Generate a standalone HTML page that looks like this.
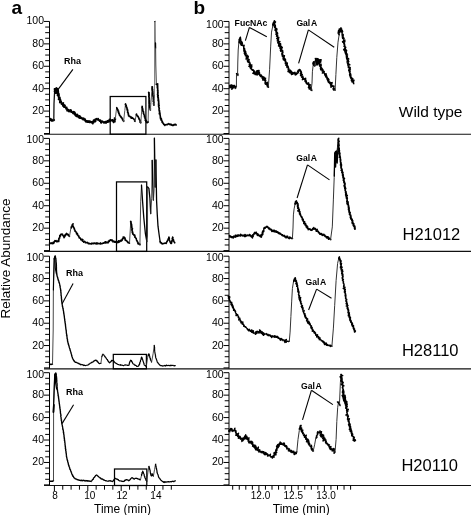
<!DOCTYPE html>
<html><head><meta charset="utf-8"><style>
html,body{margin:0;padding:0;background:#fff;}
svg{display:block;font-family:"Liberation Sans",sans-serif;will-change:transform;}
</style></head><body>
<svg width="471" height="515" viewBox="0 0 471 515">
<rect width="471" height="515" fill="#fff"/>
<line x1="49.5" y1="21.45" x2="49.5" y2="134.2" stroke="#000" stroke-width="1"/>
<line x1="45.2" y1="127.9" x2="49.5" y2="127.9" stroke="#000" stroke-width="1"/>
<line x1="45.2" y1="122.3" x2="49.5" y2="122.3" stroke="#000" stroke-width="1"/>
<line x1="45.2" y1="116.69" x2="49.5" y2="116.69" stroke="#000" stroke-width="1"/>
<line x1="44" y1="111.09" x2="49.5" y2="111.09" stroke="#000" stroke-width="1"/>
<text x="44" y="114.09" font-size="10.5" font-weight="normal" text-anchor="end" >20</text>
<line x1="45.2" y1="105.49" x2="49.5" y2="105.49" stroke="#000" stroke-width="1"/>
<line x1="45.2" y1="99.88" x2="49.5" y2="99.88" stroke="#000" stroke-width="1"/>
<line x1="45.2" y1="94.28" x2="49.5" y2="94.28" stroke="#000" stroke-width="1"/>
<line x1="44" y1="88.68" x2="49.5" y2="88.68" stroke="#000" stroke-width="1"/>
<text x="44" y="91.68" font-size="10.5" font-weight="normal" text-anchor="end" >40</text>
<line x1="45.2" y1="83.08" x2="49.5" y2="83.08" stroke="#000" stroke-width="1"/>
<line x1="45.2" y1="77.47" x2="49.5" y2="77.47" stroke="#000" stroke-width="1"/>
<line x1="45.2" y1="71.87" x2="49.5" y2="71.87" stroke="#000" stroke-width="1"/>
<line x1="44" y1="66.27" x2="49.5" y2="66.27" stroke="#000" stroke-width="1"/>
<text x="44" y="69.27" font-size="10.5" font-weight="normal" text-anchor="end" >60</text>
<line x1="45.2" y1="60.67" x2="49.5" y2="60.67" stroke="#000" stroke-width="1"/>
<line x1="45.2" y1="55.06" x2="49.5" y2="55.06" stroke="#000" stroke-width="1"/>
<line x1="45.2" y1="49.46" x2="49.5" y2="49.46" stroke="#000" stroke-width="1"/>
<line x1="44" y1="43.86" x2="49.5" y2="43.86" stroke="#000" stroke-width="1"/>
<text x="44" y="46.86" font-size="10.5" font-weight="normal" text-anchor="end" >80</text>
<line x1="45.2" y1="38.26" x2="49.5" y2="38.26" stroke="#000" stroke-width="1"/>
<line x1="45.2" y1="32.66" x2="49.5" y2="32.66" stroke="#000" stroke-width="1"/>
<line x1="45.2" y1="27.05" x2="49.5" y2="27.05" stroke="#000" stroke-width="1"/>
<line x1="44" y1="21.45" x2="49.5" y2="21.45" stroke="#000" stroke-width="1"/>
<text x="44" y="24.45" font-size="10.5" font-weight="normal" text-anchor="end" >100</text>
<line x1="44" y1="133.5" x2="49.5" y2="133.5" stroke="#000" stroke-width="1"/>
<line x1="229" y1="21.45" x2="229" y2="134.2" stroke="#000" stroke-width="1"/>
<line x1="224.7" y1="127.9" x2="229" y2="127.9" stroke="#000" stroke-width="1"/>
<line x1="224.7" y1="122.3" x2="229" y2="122.3" stroke="#000" stroke-width="1"/>
<line x1="224.7" y1="116.69" x2="229" y2="116.69" stroke="#000" stroke-width="1"/>
<line x1="223.5" y1="111.09" x2="229" y2="111.09" stroke="#000" stroke-width="1"/>
<text x="223.6" y="114.09" font-size="10.5" font-weight="normal" text-anchor="end" >20</text>
<line x1="224.7" y1="105.49" x2="229" y2="105.49" stroke="#000" stroke-width="1"/>
<line x1="224.7" y1="99.88" x2="229" y2="99.88" stroke="#000" stroke-width="1"/>
<line x1="224.7" y1="94.28" x2="229" y2="94.28" stroke="#000" stroke-width="1"/>
<line x1="223.5" y1="88.68" x2="229" y2="88.68" stroke="#000" stroke-width="1"/>
<text x="223.6" y="91.68" font-size="10.5" font-weight="normal" text-anchor="end" >40</text>
<line x1="224.7" y1="83.08" x2="229" y2="83.08" stroke="#000" stroke-width="1"/>
<line x1="224.7" y1="77.47" x2="229" y2="77.47" stroke="#000" stroke-width="1"/>
<line x1="224.7" y1="71.87" x2="229" y2="71.87" stroke="#000" stroke-width="1"/>
<line x1="223.5" y1="66.27" x2="229" y2="66.27" stroke="#000" stroke-width="1"/>
<text x="223.6" y="69.27" font-size="10.5" font-weight="normal" text-anchor="end" >60</text>
<line x1="224.7" y1="60.67" x2="229" y2="60.67" stroke="#000" stroke-width="1"/>
<line x1="224.7" y1="55.06" x2="229" y2="55.06" stroke="#000" stroke-width="1"/>
<line x1="224.7" y1="49.46" x2="229" y2="49.46" stroke="#000" stroke-width="1"/>
<line x1="223.5" y1="43.86" x2="229" y2="43.86" stroke="#000" stroke-width="1"/>
<text x="223.6" y="46.86" font-size="10.5" font-weight="normal" text-anchor="end" >80</text>
<line x1="224.7" y1="38.26" x2="229" y2="38.26" stroke="#000" stroke-width="1"/>
<line x1="224.7" y1="32.66" x2="229" y2="32.66" stroke="#000" stroke-width="1"/>
<line x1="224.7" y1="27.05" x2="229" y2="27.05" stroke="#000" stroke-width="1"/>
<line x1="223.5" y1="21.45" x2="229" y2="21.45" stroke="#000" stroke-width="1"/>
<text x="223.6" y="28.25" font-size="10.5" font-weight="normal" text-anchor="end" >100</text>
<line x1="223.5" y1="133.5" x2="229" y2="133.5" stroke="#000" stroke-width="1"/>
<line x1="44" y1="134.2" x2="471" y2="134.2" stroke="#111" stroke-width="1.15"/>
<line x1="49.5" y1="138.4" x2="49.5" y2="251.4" stroke="#000" stroke-width="1"/>
<line x1="45.2" y1="244.99" x2="49.5" y2="244.99" stroke="#000" stroke-width="1"/>
<line x1="45.2" y1="239.38" x2="49.5" y2="239.38" stroke="#000" stroke-width="1"/>
<line x1="45.2" y1="233.77" x2="49.5" y2="233.77" stroke="#000" stroke-width="1"/>
<line x1="44" y1="228.16" x2="49.5" y2="228.16" stroke="#000" stroke-width="1"/>
<text x="44" y="231.16" font-size="10.5" font-weight="normal" text-anchor="end" >20</text>
<line x1="45.2" y1="222.55" x2="49.5" y2="222.55" stroke="#000" stroke-width="1"/>
<line x1="45.2" y1="216.94" x2="49.5" y2="216.94" stroke="#000" stroke-width="1"/>
<line x1="45.2" y1="211.33" x2="49.5" y2="211.33" stroke="#000" stroke-width="1"/>
<line x1="44" y1="205.72" x2="49.5" y2="205.72" stroke="#000" stroke-width="1"/>
<text x="44" y="208.72" font-size="10.5" font-weight="normal" text-anchor="end" >40</text>
<line x1="45.2" y1="200.11" x2="49.5" y2="200.11" stroke="#000" stroke-width="1"/>
<line x1="45.2" y1="194.5" x2="49.5" y2="194.5" stroke="#000" stroke-width="1"/>
<line x1="45.2" y1="188.89" x2="49.5" y2="188.89" stroke="#000" stroke-width="1"/>
<line x1="44" y1="183.28" x2="49.5" y2="183.28" stroke="#000" stroke-width="1"/>
<text x="44" y="186.28" font-size="10.5" font-weight="normal" text-anchor="end" >60</text>
<line x1="45.2" y1="177.67" x2="49.5" y2="177.67" stroke="#000" stroke-width="1"/>
<line x1="45.2" y1="172.06" x2="49.5" y2="172.06" stroke="#000" stroke-width="1"/>
<line x1="45.2" y1="166.45" x2="49.5" y2="166.45" stroke="#000" stroke-width="1"/>
<line x1="44" y1="160.84" x2="49.5" y2="160.84" stroke="#000" stroke-width="1"/>
<text x="44" y="163.84" font-size="10.5" font-weight="normal" text-anchor="end" >80</text>
<line x1="45.2" y1="155.23" x2="49.5" y2="155.23" stroke="#000" stroke-width="1"/>
<line x1="45.2" y1="149.62" x2="49.5" y2="149.62" stroke="#000" stroke-width="1"/>
<line x1="45.2" y1="144.01" x2="49.5" y2="144.01" stroke="#000" stroke-width="1"/>
<line x1="44" y1="138.4" x2="49.5" y2="138.4" stroke="#000" stroke-width="1"/>
<text x="44" y="143.4" font-size="10.5" font-weight="normal" text-anchor="end" >100</text>
<line x1="44" y1="250.6" x2="49.5" y2="250.6" stroke="#000" stroke-width="1"/>
<line x1="229" y1="138.4" x2="229" y2="251.4" stroke="#000" stroke-width="1"/>
<line x1="224.7" y1="244.99" x2="229" y2="244.99" stroke="#000" stroke-width="1"/>
<line x1="224.7" y1="239.38" x2="229" y2="239.38" stroke="#000" stroke-width="1"/>
<line x1="224.7" y1="233.77" x2="229" y2="233.77" stroke="#000" stroke-width="1"/>
<line x1="223.5" y1="228.16" x2="229" y2="228.16" stroke="#000" stroke-width="1"/>
<text x="223.6" y="231.16" font-size="10.5" font-weight="normal" text-anchor="end" >20</text>
<line x1="224.7" y1="222.55" x2="229" y2="222.55" stroke="#000" stroke-width="1"/>
<line x1="224.7" y1="216.94" x2="229" y2="216.94" stroke="#000" stroke-width="1"/>
<line x1="224.7" y1="211.33" x2="229" y2="211.33" stroke="#000" stroke-width="1"/>
<line x1="223.5" y1="205.72" x2="229" y2="205.72" stroke="#000" stroke-width="1"/>
<text x="223.6" y="208.72" font-size="10.5" font-weight="normal" text-anchor="end" >40</text>
<line x1="224.7" y1="200.11" x2="229" y2="200.11" stroke="#000" stroke-width="1"/>
<line x1="224.7" y1="194.5" x2="229" y2="194.5" stroke="#000" stroke-width="1"/>
<line x1="224.7" y1="188.89" x2="229" y2="188.89" stroke="#000" stroke-width="1"/>
<line x1="223.5" y1="183.28" x2="229" y2="183.28" stroke="#000" stroke-width="1"/>
<text x="223.6" y="186.28" font-size="10.5" font-weight="normal" text-anchor="end" >60</text>
<line x1="224.7" y1="177.67" x2="229" y2="177.67" stroke="#000" stroke-width="1"/>
<line x1="224.7" y1="172.06" x2="229" y2="172.06" stroke="#000" stroke-width="1"/>
<line x1="224.7" y1="166.45" x2="229" y2="166.45" stroke="#000" stroke-width="1"/>
<line x1="223.5" y1="160.84" x2="229" y2="160.84" stroke="#000" stroke-width="1"/>
<text x="223.6" y="163.84" font-size="10.5" font-weight="normal" text-anchor="end" >80</text>
<line x1="224.7" y1="155.23" x2="229" y2="155.23" stroke="#000" stroke-width="1"/>
<line x1="224.7" y1="149.62" x2="229" y2="149.62" stroke="#000" stroke-width="1"/>
<line x1="224.7" y1="144.01" x2="229" y2="144.01" stroke="#000" stroke-width="1"/>
<line x1="223.5" y1="138.4" x2="229" y2="138.4" stroke="#000" stroke-width="1"/>
<text x="223.6" y="143.4" font-size="10.5" font-weight="normal" text-anchor="end" >100</text>
<line x1="223.5" y1="250.6" x2="229" y2="250.6" stroke="#000" stroke-width="1"/>
<line x1="44" y1="251.4" x2="471" y2="251.4" stroke="#111" stroke-width="1.15"/>
<line x1="49.5" y1="256.2" x2="49.5" y2="368.8" stroke="#000" stroke-width="1"/>
<line x1="45.2" y1="362.31" x2="49.5" y2="362.31" stroke="#000" stroke-width="1"/>
<line x1="45.2" y1="356.73" x2="49.5" y2="356.73" stroke="#000" stroke-width="1"/>
<line x1="45.2" y1="351.14" x2="49.5" y2="351.14" stroke="#000" stroke-width="1"/>
<line x1="44" y1="345.56" x2="49.5" y2="345.56" stroke="#000" stroke-width="1"/>
<text x="44" y="348.56" font-size="10.5" font-weight="normal" text-anchor="end" >20</text>
<line x1="45.2" y1="339.97" x2="49.5" y2="339.97" stroke="#000" stroke-width="1"/>
<line x1="45.2" y1="334.39" x2="49.5" y2="334.39" stroke="#000" stroke-width="1"/>
<line x1="45.2" y1="328.8" x2="49.5" y2="328.8" stroke="#000" stroke-width="1"/>
<line x1="44" y1="323.22" x2="49.5" y2="323.22" stroke="#000" stroke-width="1"/>
<text x="44" y="326.22" font-size="10.5" font-weight="normal" text-anchor="end" >40</text>
<line x1="45.2" y1="317.63" x2="49.5" y2="317.63" stroke="#000" stroke-width="1"/>
<line x1="45.2" y1="312.05" x2="49.5" y2="312.05" stroke="#000" stroke-width="1"/>
<line x1="45.2" y1="306.46" x2="49.5" y2="306.46" stroke="#000" stroke-width="1"/>
<line x1="44" y1="300.88" x2="49.5" y2="300.88" stroke="#000" stroke-width="1"/>
<text x="44" y="303.88" font-size="10.5" font-weight="normal" text-anchor="end" >60</text>
<line x1="45.2" y1="295.29" x2="49.5" y2="295.29" stroke="#000" stroke-width="1"/>
<line x1="45.2" y1="289.71" x2="49.5" y2="289.71" stroke="#000" stroke-width="1"/>
<line x1="45.2" y1="284.12" x2="49.5" y2="284.12" stroke="#000" stroke-width="1"/>
<line x1="44" y1="278.54" x2="49.5" y2="278.54" stroke="#000" stroke-width="1"/>
<text x="44" y="281.54" font-size="10.5" font-weight="normal" text-anchor="end" >80</text>
<line x1="45.2" y1="272.95" x2="49.5" y2="272.95" stroke="#000" stroke-width="1"/>
<line x1="45.2" y1="267.37" x2="49.5" y2="267.37" stroke="#000" stroke-width="1"/>
<line x1="45.2" y1="261.78" x2="49.5" y2="261.78" stroke="#000" stroke-width="1"/>
<line x1="44" y1="256.2" x2="49.5" y2="256.2" stroke="#000" stroke-width="1"/>
<text x="44" y="261.2" font-size="10.5" font-weight="normal" text-anchor="end" >100</text>
<line x1="44" y1="367.9" x2="49.5" y2="367.9" stroke="#000" stroke-width="1"/>
<line x1="229" y1="256.2" x2="229" y2="368.8" stroke="#000" stroke-width="1"/>
<line x1="224.7" y1="362.31" x2="229" y2="362.31" stroke="#000" stroke-width="1"/>
<line x1="224.7" y1="356.73" x2="229" y2="356.73" stroke="#000" stroke-width="1"/>
<line x1="224.7" y1="351.14" x2="229" y2="351.14" stroke="#000" stroke-width="1"/>
<line x1="223.5" y1="345.56" x2="229" y2="345.56" stroke="#000" stroke-width="1"/>
<text x="223.6" y="348.56" font-size="10.5" font-weight="normal" text-anchor="end" >20</text>
<line x1="224.7" y1="339.97" x2="229" y2="339.97" stroke="#000" stroke-width="1"/>
<line x1="224.7" y1="334.39" x2="229" y2="334.39" stroke="#000" stroke-width="1"/>
<line x1="224.7" y1="328.8" x2="229" y2="328.8" stroke="#000" stroke-width="1"/>
<line x1="223.5" y1="323.22" x2="229" y2="323.22" stroke="#000" stroke-width="1"/>
<text x="223.6" y="326.22" font-size="10.5" font-weight="normal" text-anchor="end" >40</text>
<line x1="224.7" y1="317.63" x2="229" y2="317.63" stroke="#000" stroke-width="1"/>
<line x1="224.7" y1="312.05" x2="229" y2="312.05" stroke="#000" stroke-width="1"/>
<line x1="224.7" y1="306.46" x2="229" y2="306.46" stroke="#000" stroke-width="1"/>
<line x1="223.5" y1="300.88" x2="229" y2="300.88" stroke="#000" stroke-width="1"/>
<text x="223.6" y="303.88" font-size="10.5" font-weight="normal" text-anchor="end" >60</text>
<line x1="224.7" y1="295.29" x2="229" y2="295.29" stroke="#000" stroke-width="1"/>
<line x1="224.7" y1="289.71" x2="229" y2="289.71" stroke="#000" stroke-width="1"/>
<line x1="224.7" y1="284.12" x2="229" y2="284.12" stroke="#000" stroke-width="1"/>
<line x1="223.5" y1="278.54" x2="229" y2="278.54" stroke="#000" stroke-width="1"/>
<text x="223.6" y="281.54" font-size="10.5" font-weight="normal" text-anchor="end" >80</text>
<line x1="224.7" y1="272.95" x2="229" y2="272.95" stroke="#000" stroke-width="1"/>
<line x1="224.7" y1="267.37" x2="229" y2="267.37" stroke="#000" stroke-width="1"/>
<line x1="224.7" y1="261.78" x2="229" y2="261.78" stroke="#000" stroke-width="1"/>
<line x1="223.5" y1="256.2" x2="229" y2="256.2" stroke="#000" stroke-width="1"/>
<text x="223.6" y="261.2" font-size="10.5" font-weight="normal" text-anchor="end" >100</text>
<line x1="223.5" y1="367.9" x2="229" y2="367.9" stroke="#000" stroke-width="1"/>
<line x1="44" y1="368.8" x2="471" y2="368.8" stroke="#111" stroke-width="1.15"/>
<line x1="49.5" y1="372.7" x2="49.5" y2="485.5" stroke="#000" stroke-width="1"/>
<line x1="45.2" y1="479.29" x2="49.5" y2="479.29" stroke="#000" stroke-width="1"/>
<line x1="45.2" y1="473.68" x2="49.5" y2="473.68" stroke="#000" stroke-width="1"/>
<line x1="45.2" y1="468.07" x2="49.5" y2="468.07" stroke="#000" stroke-width="1"/>
<line x1="44" y1="462.46" x2="49.5" y2="462.46" stroke="#000" stroke-width="1"/>
<text x="44" y="465.46" font-size="10.5" font-weight="normal" text-anchor="end" >20</text>
<line x1="45.2" y1="456.85" x2="49.5" y2="456.85" stroke="#000" stroke-width="1"/>
<line x1="45.2" y1="451.24" x2="49.5" y2="451.24" stroke="#000" stroke-width="1"/>
<line x1="45.2" y1="445.63" x2="49.5" y2="445.63" stroke="#000" stroke-width="1"/>
<line x1="44" y1="440.02" x2="49.5" y2="440.02" stroke="#000" stroke-width="1"/>
<text x="44" y="443.02" font-size="10.5" font-weight="normal" text-anchor="end" >40</text>
<line x1="45.2" y1="434.41" x2="49.5" y2="434.41" stroke="#000" stroke-width="1"/>
<line x1="45.2" y1="428.8" x2="49.5" y2="428.8" stroke="#000" stroke-width="1"/>
<line x1="45.2" y1="423.19" x2="49.5" y2="423.19" stroke="#000" stroke-width="1"/>
<line x1="44" y1="417.58" x2="49.5" y2="417.58" stroke="#000" stroke-width="1"/>
<text x="44" y="420.58" font-size="10.5" font-weight="normal" text-anchor="end" >60</text>
<line x1="45.2" y1="411.97" x2="49.5" y2="411.97" stroke="#000" stroke-width="1"/>
<line x1="45.2" y1="406.36" x2="49.5" y2="406.36" stroke="#000" stroke-width="1"/>
<line x1="45.2" y1="400.75" x2="49.5" y2="400.75" stroke="#000" stroke-width="1"/>
<line x1="44" y1="395.14" x2="49.5" y2="395.14" stroke="#000" stroke-width="1"/>
<text x="44" y="398.14" font-size="10.5" font-weight="normal" text-anchor="end" >80</text>
<line x1="45.2" y1="389.53" x2="49.5" y2="389.53" stroke="#000" stroke-width="1"/>
<line x1="45.2" y1="383.92" x2="49.5" y2="383.92" stroke="#000" stroke-width="1"/>
<line x1="45.2" y1="378.31" x2="49.5" y2="378.31" stroke="#000" stroke-width="1"/>
<line x1="44" y1="372.7" x2="49.5" y2="372.7" stroke="#000" stroke-width="1"/>
<text x="44" y="377.7" font-size="10.5" font-weight="normal" text-anchor="end" >100</text>
<line x1="44" y1="484.9" x2="49.5" y2="484.9" stroke="#000" stroke-width="1"/>
<line x1="229" y1="372.7" x2="229" y2="485.5" stroke="#000" stroke-width="1"/>
<line x1="224.7" y1="479.29" x2="229" y2="479.29" stroke="#000" stroke-width="1"/>
<line x1="224.7" y1="473.68" x2="229" y2="473.68" stroke="#000" stroke-width="1"/>
<line x1="224.7" y1="468.07" x2="229" y2="468.07" stroke="#000" stroke-width="1"/>
<line x1="223.5" y1="462.46" x2="229" y2="462.46" stroke="#000" stroke-width="1"/>
<text x="223.6" y="465.46" font-size="10.5" font-weight="normal" text-anchor="end" >20</text>
<line x1="224.7" y1="456.85" x2="229" y2="456.85" stroke="#000" stroke-width="1"/>
<line x1="224.7" y1="451.24" x2="229" y2="451.24" stroke="#000" stroke-width="1"/>
<line x1="224.7" y1="445.63" x2="229" y2="445.63" stroke="#000" stroke-width="1"/>
<line x1="223.5" y1="440.02" x2="229" y2="440.02" stroke="#000" stroke-width="1"/>
<text x="223.6" y="443.02" font-size="10.5" font-weight="normal" text-anchor="end" >40</text>
<line x1="224.7" y1="434.41" x2="229" y2="434.41" stroke="#000" stroke-width="1"/>
<line x1="224.7" y1="428.8" x2="229" y2="428.8" stroke="#000" stroke-width="1"/>
<line x1="224.7" y1="423.19" x2="229" y2="423.19" stroke="#000" stroke-width="1"/>
<line x1="223.5" y1="417.58" x2="229" y2="417.58" stroke="#000" stroke-width="1"/>
<text x="223.6" y="420.58" font-size="10.5" font-weight="normal" text-anchor="end" >60</text>
<line x1="224.7" y1="411.97" x2="229" y2="411.97" stroke="#000" stroke-width="1"/>
<line x1="224.7" y1="406.36" x2="229" y2="406.36" stroke="#000" stroke-width="1"/>
<line x1="224.7" y1="400.75" x2="229" y2="400.75" stroke="#000" stroke-width="1"/>
<line x1="223.5" y1="395.14" x2="229" y2="395.14" stroke="#000" stroke-width="1"/>
<text x="223.6" y="398.14" font-size="10.5" font-weight="normal" text-anchor="end" >80</text>
<line x1="224.7" y1="389.53" x2="229" y2="389.53" stroke="#000" stroke-width="1"/>
<line x1="224.7" y1="383.92" x2="229" y2="383.92" stroke="#000" stroke-width="1"/>
<line x1="224.7" y1="378.31" x2="229" y2="378.31" stroke="#000" stroke-width="1"/>
<line x1="223.5" y1="372.7" x2="229" y2="372.7" stroke="#000" stroke-width="1"/>
<text x="223.6" y="377.7" font-size="10.5" font-weight="normal" text-anchor="end" >100</text>
<line x1="223.5" y1="484.9" x2="229" y2="484.9" stroke="#000" stroke-width="1"/>
<line x1="44" y1="485.5" x2="471" y2="485.5" stroke="#111" stroke-width="1.15"/>
<line x1="54.4" y1="485.5" x2="54.4" y2="491" stroke="#000" stroke-width="1"/>
<line x1="62.75" y1="485.5" x2="62.75" y2="489.7" stroke="#000" stroke-width="1"/>
<line x1="71.1" y1="485.5" x2="71.1" y2="489.7" stroke="#000" stroke-width="1"/>
<line x1="79.45" y1="485.5" x2="79.45" y2="489.7" stroke="#000" stroke-width="1"/>
<line x1="87.8" y1="485.5" x2="87.8" y2="491" stroke="#000" stroke-width="1"/>
<line x1="96.15" y1="485.5" x2="96.15" y2="489.7" stroke="#000" stroke-width="1"/>
<line x1="104.5" y1="485.5" x2="104.5" y2="489.7" stroke="#000" stroke-width="1"/>
<line x1="112.85" y1="485.5" x2="112.85" y2="489.7" stroke="#000" stroke-width="1"/>
<line x1="121.2" y1="485.5" x2="121.2" y2="491" stroke="#000" stroke-width="1"/>
<line x1="129.55" y1="485.5" x2="129.55" y2="489.7" stroke="#000" stroke-width="1"/>
<line x1="137.9" y1="485.5" x2="137.9" y2="489.7" stroke="#000" stroke-width="1"/>
<line x1="146.25" y1="485.5" x2="146.25" y2="489.7" stroke="#000" stroke-width="1"/>
<line x1="154.6" y1="485.5" x2="154.6" y2="491" stroke="#000" stroke-width="1"/>
<line x1="162.95" y1="485.5" x2="162.95" y2="489.7" stroke="#000" stroke-width="1"/>
<line x1="171.3" y1="485.5" x2="171.3" y2="489.7" stroke="#000" stroke-width="1"/>
<text x="55" y="498.8" font-size="10" font-weight="normal" text-anchor="middle" >8</text>
<text x="89.8" y="498.8" font-size="10" font-weight="normal" text-anchor="middle" >10</text>
<text x="122" y="498.8" font-size="10" font-weight="normal" text-anchor="middle" >12</text>
<text x="155.9" y="498.8" font-size="10" font-weight="normal" text-anchor="middle" >14</text>
<line x1="232.7" y1="485.5" x2="232.7" y2="489.7" stroke="#000" stroke-width="1"/>
<line x1="239.25" y1="485.5" x2="239.25" y2="489.7" stroke="#000" stroke-width="1"/>
<line x1="245.8" y1="485.5" x2="245.8" y2="489.7" stroke="#000" stroke-width="1"/>
<line x1="252.35" y1="485.5" x2="252.35" y2="489.7" stroke="#000" stroke-width="1"/>
<line x1="258.9" y1="485.5" x2="258.9" y2="491" stroke="#000" stroke-width="1"/>
<line x1="265.45" y1="485.5" x2="265.45" y2="489.7" stroke="#000" stroke-width="1"/>
<line x1="272" y1="485.5" x2="272" y2="489.7" stroke="#000" stroke-width="1"/>
<line x1="278.55" y1="485.5" x2="278.55" y2="489.7" stroke="#000" stroke-width="1"/>
<line x1="285.1" y1="485.5" x2="285.1" y2="489.7" stroke="#000" stroke-width="1"/>
<line x1="291.65" y1="485.5" x2="291.65" y2="491" stroke="#000" stroke-width="1"/>
<line x1="298.2" y1="485.5" x2="298.2" y2="489.7" stroke="#000" stroke-width="1"/>
<line x1="304.75" y1="485.5" x2="304.75" y2="489.7" stroke="#000" stroke-width="1"/>
<line x1="311.3" y1="485.5" x2="311.3" y2="489.7" stroke="#000" stroke-width="1"/>
<line x1="317.85" y1="485.5" x2="317.85" y2="489.7" stroke="#000" stroke-width="1"/>
<line x1="324.4" y1="485.5" x2="324.4" y2="491" stroke="#000" stroke-width="1"/>
<line x1="330.95" y1="485.5" x2="330.95" y2="489.7" stroke="#000" stroke-width="1"/>
<line x1="337.5" y1="485.5" x2="337.5" y2="489.7" stroke="#000" stroke-width="1"/>
<line x1="344.05" y1="485.5" x2="344.05" y2="489.7" stroke="#000" stroke-width="1"/>
<line x1="350.6" y1="485.5" x2="350.6" y2="489.7" stroke="#000" stroke-width="1"/>
<text x="260.5" y="498.8" font-size="10" font-weight="normal" text-anchor="middle" >12.0</text>
<text x="293.25" y="498.8" font-size="10" font-weight="normal" text-anchor="middle" >12.5</text>
<text x="326" y="498.8" font-size="10" font-weight="normal" text-anchor="middle" >13.0</text>
<text x="122.5" y="512.6" font-size="12" font-weight="normal" text-anchor="middle" >Time (min)</text>
<text x="301.2" y="512.6" font-size="12" font-weight="normal" text-anchor="middle" >Time (min)</text>
<text x="0" y="0" font-size="13.5" text-anchor="middle" transform="translate(9.8,258.5) rotate(-90)">Relative Abundance</text>
<text x="11.6" y="14.1" font-size="19" font-weight="bold" text-anchor="start" >a</text>
<text x="193.6" y="13.9" font-size="19" font-weight="bold" text-anchor="start" >b</text>
<text x="462.5" y="117" font-size="15.5" font-weight="normal" text-anchor="end" >Wild type</text>
<text x="460.3" y="240" font-size="16.5" font-weight="normal" text-anchor="end" >H21012</text>
<text x="458.5" y="355.8" font-size="16.5" font-weight="normal" text-anchor="end" >H28110</text>
<text x="458" y="470.8" font-size="16.5" font-weight="normal" text-anchor="end" >H20110</text>
<rect x="110.2" y="96.5" width="35.7" height="37.7" fill="none" stroke="#000" stroke-width="1.25"/>
<rect x="116.5" y="181.9" width="30.2" height="69.5" fill="none" stroke="#000" stroke-width="1.25"/>
<rect x="113.3" y="354.4" width="33.1" height="14.4" fill="none" stroke="#000" stroke-width="1.25"/>
<rect x="114.5" y="469" width="32.3" height="16.5" fill="none" stroke="#000" stroke-width="1.25"/>
<text x="64" y="63.6" font-size="9" font-weight="bold" text-anchor="start" >Rha</text>
<line x1="72.9" y1="69.4" x2="57.6" y2="90.2" stroke="#000" stroke-width="1.1"/>
<text x="65.9" y="275.8" font-size="9" font-weight="bold" text-anchor="start" >Rha</text>
<line x1="73.1" y1="283.5" x2="62" y2="303.9" stroke="#000" stroke-width="1.1"/>
<text x="65.9" y="394.9" font-size="9" font-weight="bold" text-anchor="start" >Rha</text>
<line x1="73.6" y1="404.7" x2="62.2" y2="423.4" stroke="#000" stroke-width="1.1"/>
<text x="234.6" y="26" font-size="8.7" font-weight="bold" text-anchor="start" >FucNAc</text>
<line x1="249.4" y1="27.4" x2="245.4" y2="40.6" stroke="#000" stroke-width="1.1"/>
<line x1="249.4" y1="27.4" x2="266.8" y2="36.7" stroke="#000" stroke-width="1.1"/>
<text x="296.4" y="26" font-size="8.6" font-weight="bold" text-anchor="start" >Gal<tspan dx="0.7">A</tspan></text>
<line x1="308.4" y1="29.9" x2="298.6" y2="63.4" stroke="#000" stroke-width="1.1"/>
<line x1="308.4" y1="29.9" x2="334.2" y2="47.3" stroke="#000" stroke-width="1.1"/>
<text x="296.3" y="161.1" font-size="8.6" font-weight="bold" text-anchor="start" >Gal<tspan dx="0.7">A</tspan></text>
<line x1="307.5" y1="164.9" x2="297.1" y2="198" stroke="#000" stroke-width="1.1"/>
<line x1="307.5" y1="164.9" x2="329.5" y2="179.9" stroke="#000" stroke-width="1.1"/>
<text x="305.5" y="284.7" font-size="8.6" font-weight="bold" text-anchor="start" >Gal<tspan dx="0.7">A</tspan></text>
<line x1="316.6" y1="289.1" x2="308.6" y2="310" stroke="#000" stroke-width="1.1"/>
<line x1="316.6" y1="289.1" x2="331.5" y2="298.2" stroke="#000" stroke-width="1.1"/>
<text x="301" y="388.5" font-size="8.6" font-weight="bold" text-anchor="start" >Gal<tspan dx="0.7">A</tspan></text>
<line x1="311.4" y1="390.3" x2="302.5" y2="419.8" stroke="#000" stroke-width="1.1"/>
<line x1="311.4" y1="390.3" x2="332.9" y2="404.6" stroke="#000" stroke-width="1.1"/>
<path d="M50.1,118.85 L50,119.08 L50.27,118.87 L50.76,120.31 L50.91,120.48 L51.12,120.31 L51.61,119.29 L51.7,120.8 L51.13,119.46 L51.97,119.91 L52.47,120.6 L52.56,120.7 L53.3,120.54 L54.16,119.93 L53.8,120.3" fill="none" stroke="#000" stroke-width="1.9" stroke-linejoin="round" stroke-linecap="round" />
<path d="M53.8,120.3 L54,103.8 L54.4,95.5 L54.8,89" fill="none" stroke="#111" stroke-width="1.3" stroke-linejoin="round" stroke-linecap="round"/>
<path d="M55.28,89.33 L54.56,88.94 L54.87,89.41 L55.06,90.3 L54.63,89.96 L55.56,90.23 L55.22,90.36 L54.58,91.41 L55.75,91.49 L55.16,90.56 L55.01,92.01 L55.37,92.68 L55.78,91.81 L55.5,93" fill="none" stroke="#000" stroke-width="1.9" stroke-linejoin="round" stroke-linecap="round" />
<path d="M55.5,93 L56.3,87.8" fill="none" stroke="#111" stroke-width="1.3" stroke-linejoin="round" stroke-linecap="round"/>
<path d="M56.68,88.2 L56.49,88.97 L55.86,88.48 L56.18,89.09 L55.96,88.75 L56.29,88.75 L55.73,90.41 L56.68,89.07 L56.86,91.11 L55.67,89.41 L56.42,91.07 L57.14,90.49 L56.86,92.13 L57.01,91.92 L57.12,93.04 L57.14,92.7 L57.47,91.75 L57.21,93.57 L56.79,91.5 L56.37,92.87 L57.54,91.94 L57.83,90.94 L57.17,91.74 L57.53,91.29 L57.78,90.84 L57.2,90.06 L57.42,90.76 L57.83,89.29 L57.32,90.38 L57.51,88.97 L57.51,90.01 L57.28,91.24 L57.25,91.46 L58.08,90.53 L58.23,91.98 L58.01,91.81 L58.25,91.99 L58.2,92.09 L58.15,92.84 L58.44,93.26 L58.41,94.31 L58.2,93.14 L58.78,93.69 L58.63,93.8 L57.54,95.4 L58.7,93.93 L58.77,95.14 L59,94.94 L58.59,95.67 L59.02,97.26 L58.91,95.77 L59,96.26 L58.91,95.1 L58.71,97.61 L59.64,97.26 L59.93,98.11 L59.27,96.88 L59.74,98 L58.56,99.16 L59.06,99.45 L59.12,99.51 L60.27,99.51 L59.95,99.61 L60,100.48 L60.64,100.25 L59.98,101.23 L59.84,102.47 L60.39,101.69 L60.98,101.49 L61.16,101.82 L60.5,101.04 L60.91,102.6 L60.91,101.88 L61.98,103.51 L61.48,103.88 L61.58,103.25 L62.86,103.96 L63.02,103.22 L62.51,104.59 L63.32,103.07 L62.7,104.44 L63.28,104.99 L62.89,105.9 L64.09,105.93 L63.61,106.36 L64.28,105.29 L64.12,106.05 L64.16,107.09 L64.3,105.1 L64.97,105.61 L64.59,107.16 L65.36,107.21 L65.75,107.51 L65.83,107.67 L66.25,108.85 L66.15,107.8 L65.58,107.29 L66.66,107.46 L66.44,108.11 L66.66,108.95 L66.98,108.93 L67.12,110.57 L67.72,110.04 L67.03,109.81 L68.18,109.82 L67.73,109.38 L68.5,111.19 L68.72,110.8 L68.23,110.97 L68.74,110 L69.07,111.57 L69.29,110.54 L69.85,110.23 L70.35,110.52 L70.63,109.88 L70.02,110.98 L70.99,111.87 L71.05,110.17 L71.52,111.75 L72.3,112.12 L72.43,112.12 L72.86,112.59 L72.07,112.13 L73.72,112.47 L73.31,111.82 L73.01,113.38 L74.89,112.71 L74.41,112.09 L74.3,114 L74.92,113.42 L74.73,112.76 L75.31,113.69 L75.11,113.71 L75.26,113.34 L75.65,114.7 L75.49,113.87 L76.49,116.2 L75.24,115.2 L76.65,115.41 L76.84,116.26 L77.09,115.43 L77.5,114.52 L77.02,116.09 L78.3,116.83 L77.58,115.33 L78.19,116.48 L78,116.2 L79.07,117.85 L78.39,116 L79.6,117.87 L79.8,118.08 L79.85,116.6 L79.72,115.96 L80.49,117.36 L80.51,117.09 L80.98,117.94 L81.18,118.18 L81.67,117.77 L81.28,118.15 L81.86,117.9 L82.18,118.37 L82.45,118.6 L82.13,118.68 L83.31,119.17 L83.06,119.34 L83.01,119.51 L83.67,118.26 L84.2,119 L83.16,119.07 L85.05,119.26 L84.12,119.81 L85.13,119.74 L85.25,120.66 L85.72,121.41 L85.93,120.67 L86.33,121.83 L85.77,121.61 L86.8,120.98 L87.24,120.96 L87.48,121.57 L88.42,121.16 L87.64,122.1 L89.03,121.48 L88.68,121.29 L88.64,122.16 L89.02,120.94 L89.7,121.93 L89.56,122.26 L90.07,122.37 L90.18,122.05 L90.74,121.85 L90.52,121.44 L90.49,122.15 L90.58,121.95 L91.91,121.88 L91.97,122.7 L91.73,122.29 L92.81,123.6 L92.49,122.96 L92.36,122 L93.71,122.38 L93.56,120.58 L93.12,121.91 L93.64,120.24 L93.75,120.76 L94.66,120.96 L95.08,121.13 L95.51,121.46 L95.09,119.57 L95.1,119.53 L95.78,119.92 L95.39,120.07 L96.26,118.84 L96.39,119.27 L96.45,119.16 L97.14,119.42 L97,119.1 L96.53,119.2 L97.81,118.87 L98.14,118.71 L97.77,119.85 L98.46,119.77 L99.1,120.35 L98.78,120.2 L99.36,120.29 L99.76,120.97 L99.37,120.25 L99.88,120.61 L100.39,120.32 L100.75,120.85 L100.81,121.61 L101.11,122.84 L101.55,122.26 L100.87,122.32 L102.23,121.25 L103.38,122.11 L103.28,121.99 L103.46,122.31 L103.34,122.21 L103.29,122.26 L103.63,122.71 L105.2,122.2 L104.67,121.97 L104.99,122.85 L105.4,121.72 L105.86,122.43 L106.55,121.51 L106.14,122.85 L106.24,121.9 L106.4,122.47 L106.77,121.91 L107.53,120.98 L107.51,122.08 L108.12,120.76 L108.19,121.02 L108.8,121.84 L109.54,120.5 L109.21,120.7 L109.21,120.22 L110.26,119.48 L109.39,121.26 L109.55,119.45 L110.34,120.97 L110.72,120.14 L110.74,120.01 L110.92,120.01 L111.9,120.1 L111.96,120.57 L112.4,119.89 L113.24,120.29 L112.84,121.18 L112.89,120.58 L113.3,120.45 L113.93,121.33 L114.84,121.64 L114.15,120.6 L113.54,122.34 L114.5,120.15 L114.74,120.28 L114.87,119.77 L115.18,119.67 L114.66,118.22 L114.74,119.08 L115.3,118.8" fill="none" stroke="#000" stroke-width="1.9" stroke-linejoin="round" stroke-linecap="round" />
<path d="M115.3,118.8 L116.6,107.9" fill="none" stroke="#555" stroke-width="1" stroke-linejoin="round" stroke-linecap="round"/>
<path d="M116.7,107.65 L116.87,108.02 L116.99,108.62 L117.1,108.84 L117.28,108.65 L117.37,109.37 L117.75,109.5 L117.9,109.59 L117.81,110.54 L117.97,110.42 L118.14,111.04 L118.07,111.18 L118.27,111.25 L118.6,111.11 L118.19,112.05 L118.54,112.3 L118.71,112.52 L118.72,112.34 L118.75,113.35 L118.72,113.03 L119.09,113.28 L119.2,114.27 L119.58,114.21 L119.21,114.32 L119.5,114.86 L119.32,114.78 L119.64,115.38 L119.67,115.29 L120.03,115.71 L120.21,116.05 L120.65,116.24 L120.68,116.89 L120.88,117 L121.31,117.1 L121.31,117.73 L121.59,117.64 L121.75,117.58 L121.99,118.07 L121.8,118.24 L122.34,118.81 L122.59,118.95 L122.49,119.29 L122.48,119.75 L122.87,119.75 L123,120.39 L123.06,120.54 L123.58,120.82 L123.83,120.86 L123.6,121.3" fill="none" stroke="#000" stroke-width="1.6" stroke-linejoin="round" stroke-linecap="round" />
<path d="M123.6,121.3 L124.8,110.5 L125.5,104.1" fill="none" stroke="#555" stroke-width="1" stroke-linejoin="round" stroke-linecap="round"/>
<path d="M125.5,103.95 L125.76,104.43 L125.36,104.39 L125.93,105.12 L126.3,105.42 L126.04,105.61 L126.16,106.08 L126,106.55 L125.9,106.35 L126.34,106.93 L126.84,107.24 L126.56,107.31 L126.57,107.49 L126.9,107.75 L126.88,108.2 L127.09,108.45 L127,108.91 L127.07,109.24 L127.4,109.1 L127.09,109.79 L127.37,110.23 L127.64,109.89 L127.6,110.65 L127.51,110.91 L127.76,110.79 L127.63,111.46 L127.76,111.83 L127.76,112.21 L127.55,112.33 L128.08,112.54 L127.98,113.26 L128.37,113.2 L128.31,113.45 L128.27,114.23 L128.22,114.41 L128.4,114.47 L128.66,114.74 L128.45,115.58 L128.71,115.17 L128.78,115.35 L128.91,115.93 L128.95,116.11 L129.2,116.35 L129.61,116.19 L130.09,116.45 L130.14,116.76 L130.7,117.06 L130.76,117.12 L130.99,117.61 L131.6,117.19 L131.17,118.17 L131.84,117.78 L132.17,118.17 L132.19,118.01 L132.81,118.25 L132.77,118.11 L132.91,118.51 L133.44,118.59 L133.69,118.91 L133.87,118.87 L133.96,119.34 L134.32,119.64 L134.61,120.2 L134.4,120 L134.9,119.87 L134.73,120.57 L134.65,121.15 L135,121.3" fill="none" stroke="#000" stroke-width="1.6" stroke-linejoin="round" stroke-linecap="round" />
<path d="M135,121.3 L136.3,114.3" fill="none" stroke="#555" stroke-width="1" stroke-linejoin="round" stroke-linecap="round"/>
<path d="M136.3,114.41 L136.54,114.11 L136.38,115.09 L136.9,115.24 L137.13,115.41 L137.21,115.86 L137.37,116.01 L137.5,116.22 L138.1,116.27 L137.98,116.66 L138.07,116.53 L138.47,117.12 L138.53,117.45 L138.79,117.62 L138.61,117.81 L138.83,118.39 L138.85,118.39 L139.17,118.67 L139,119.09 L139.34,119.39 L139.56,119.32 L139.51,119.77 L139.9,120.31 L139.88,120.23 L140.3,120.46 L140.25,120.82 L140.31,121.06 L139.9,122.03 L140.51,121.67 L140.45,122.03 L140.69,122.84 L140.8,122.6" fill="none" stroke="#000" stroke-width="1.6" stroke-linejoin="round" stroke-linecap="round" />
<path d="M140.8,122.6 L142,106.7" fill="none" stroke="#555" stroke-width="1" stroke-linejoin="round" stroke-linecap="round"/>
<path d="M142.14,106.31 L142.26,106.58 L142.17,107.15 L142.24,107.88 L142.02,107.54 L142.48,108.45 L142.58,108.26 L142.62,108.87 L142.54,108.5 L142.78,109.55 L142.34,109.83 L142.88,109.96 L142.72,110.82 L142.96,110.42 L142.95,111 L142.97,111.36 L143.08,111.44 L143.13,111.71 L143.49,111.58 L143.3,112.33 L143.62,112.59 L143.52,112.6 L143.69,113.26 L143.34,113.34 L143.81,114.01 L143.78,114.01 L143.83,114.36 L143.87,114.34 L143.98,114.74 L144.27,114.89 L144.37,115.15 L144.41,115.51 L144.48,116.38 L144.54,116.16 L144.35,116.66 L144.74,116.77 L144.82,117.1 L145.02,117.68 L145.09,118.01 L145.08,118.01 L145.12,118.31 L144.99,118.62 L145.35,118.87 L145.44,119.01 L145.51,119.66 L145.23,120.33 L145.43,120.07 L146.21,120.64 L145.92,120.1 L145.99,121.12 L145.83,121.43 L146.39,121.8 L146.38,121.91 L146.54,122.35 L146.68,122.55 L146.89,122.26 L147.26,122.61 L147.37,122.11 L147.64,122.23 L148.18,122.14 L148.1,121.6" fill="none" stroke="#000" stroke-width="1.6" stroke-linejoin="round" stroke-linecap="round" />
<path d="M148.1,121.6 L148.9,92.5" fill="none" stroke="#555" stroke-width="1" stroke-linejoin="round" stroke-linecap="round"/>
<path d="M148.59,92.28 L149.16,93.01 L149.06,93.33 L148.84,93.27 L148.82,93.93 L148.82,93.59 L149.31,94.93 L148.9,94.47 L148.91,94.99 L149.04,95.56 L149.28,95.29 L149.12,95.71 L149.05,96.15 L149.01,96.54 L148.78,96.32 L149.03,96.77 L149.18,97.37 L149.2,97.81 L149.09,97.8 L149.19,97.78 L149.32,98.71 L149.22,98.87 L149.27,99.43 L149.38,99.69 L149.51,99.87 L149.26,99.98 L149.21,100.23 L149.63,101.1 L149.46,101.04 L149.51,101.62 L149.2,101.93 L149.49,101.79 L149.45,102.6 L149.39,102.35 L149.33,102.7 L149.38,103.53 L149.85,103.48 L149.57,104.06 L149.6,103.93 L149.65,104.77 L149.58,104.99 L149.55,105.12 L149.81,105.4 L149.64,105.27 L149.62,105.98 L149.89,106.17 L149.91,107.03 L149.62,106.94 L149.93,107.64 L149.79,107.49 L149.85,107.79 L150.15,108.14 L150.18,108.44 L150.42,108.54 L149.95,108.9 L150.17,109.33 L150.29,109.44 L150.4,110" fill="none" stroke="#000" stroke-width="1.6" stroke-linejoin="round" stroke-linecap="round" />
<path d="M150.4,110 L151,101.8 L152.2,86.7" fill="none" stroke="#555" stroke-width="1" stroke-linejoin="round" stroke-linecap="round"/>
<path d="M152.01,86.77 L152.46,86.97 L152.23,87.46 L152.27,87.63 L152.43,87.89 L151.96,88.18 L152.23,88.49 L152.31,88.96 L152.78,89.14 L152.28,89.15 L152.11,89.36 L152.58,89.55 L152.25,90.15 L152.68,90.24 L152.55,90.71 L152.85,91.28 L152.83,91.97 L152.72,91.83 L152.95,92.53 L152.82,92.33 L152.79,92.77 L152.6,92.88 L152.59,93.17 L152.95,93.89 L153.12,93.61 L152.62,94.41 L153.08,94.94 L152.79,95.3 L153.08,95.23 L153.07,95.45 L152.83,95.95 L152.88,95.7 L153.03,96.17 L153.19,96.69 L153.07,96.91 L153.36,97.09 L153.25,97.68 L153.5,97.72 L153.38,97.96 L153.26,98.68 L153.15,98.9 L153.39,99.24 L153.49,98.92 L153.61,99.39 L153.41,99.74 L153.41,100.27 L153.4,100.56 L153.51,100.96 L153.14,101.15 L153.57,101.68 L153.61,101.27 L153.79,102.11 L153.89,102.04 L154.05,102.56 L153.8,102.86 L153.54,103.11 L153.89,103.76 L153.91,104.17 L153.53,103.96 L153.71,104.24 L153.94,104.5 L153.83,105.08 L153.9,105.3" fill="none" stroke="#000" stroke-width="1.6" stroke-linejoin="round" stroke-linecap="round" />
<path d="M153.9,105.3 L154.5,94.8" fill="none" stroke="#555" stroke-width="1" stroke-linejoin="round" stroke-linecap="round"/>
<path d="M154.5,94.8 L154.5,21.6" fill="none" stroke="#777" stroke-width="0.9" stroke-linejoin="round" stroke-linecap="round"/>
<path d="M154.5,21.6 L155.3,21.4" fill="none" stroke="#000" stroke-width="0.9" stroke-linejoin="round" stroke-linecap="round" />
<path d="M155.3,21.4 L155.5,43" fill="none" stroke="#777" stroke-width="0.9" stroke-linejoin="round" stroke-linecap="round"/>
<path d="M155.5,43 L155.6,48" fill="none" stroke="#000" stroke-width="1.3" stroke-linejoin="round" stroke-linecap="round" />
<path d="M155.6,48 L155.8,65 L156.3,84.3" fill="none" stroke="#333" stroke-width="1" stroke-linejoin="round" stroke-linecap="round"/>
<path d="M156.27,84.35 L156.82,84.36 L156.9,84.59 L157.69,83.85 L157.64,84.63 L157.36,84.41 L157.16,85.21 L157.61,85.35 L157.8,86.12 L157.21,85.84 L157.7,86.56 L157.26,86.76 L157.7,87.23 L157.46,87.47 L157.73,87.69 L157.22,87.73 L157.7,88.3 L157.79,88.5 L157.61,88.62 L157.76,89.01 L157.61,89.88 L157.98,90.32 L157.81,90.24 L157.67,90.83 L157.51,90.57 L158.01,91.04 L157.84,91.36 L157.8,91.44 L157.99,91.37 L157.58,91.98 L157.65,92.17 L158.04,92.96 L158.03,92.59 L157.75,93.57 L157.73,93.15 L157.96,93.71 L157.5,94.09 L157.62,94.57 L157.7,95.07 L157.78,94.89 L158.23,95.24 L158.1,95.96 L157.69,96.1 L157.91,96.14 L158.15,96.31 L157.92,96.68 L157.68,96.89 L158.38,97.68 L157.94,97.85 L158.19,97.3 L158.24,98.76 L158.5,98.98 L158.13,99.34 L158.4,99.62 L158.19,99.14 L158.27,99.47 L158.1,100.37 L158.59,99.88 L158.65,100.91 L158.59,100.7 L158.8,102.02 L158.48,101.64 L158.64,101.95 L158.48,102.61 L158.64,102.19 L158.64,102.76 L158.86,103.28 L158.47,103.84 L158.93,103.9 L158.69,103.94 L158.89,104.76 L158.41,104.86 L158.76,104.63 L159.24,105.43 L159,105.36 L158.48,106.15 L158.88,105.98 L158.85,106.38 L158.76,106.97 L158.83,107.27 L159.1,107.27 L159.08,107.57 L159.07,108.52 L159.24,108.3 L159.35,108.54 L159.29,108.57 L159.04,109.1 L159.07,110.09 L159.41,110.39 L159.11,110.6 L159.64,110.83 L159.35,110.74 L159.45,111.81 L159.33,111.25 L159.55,111.81 L159.87,112.04 L159.65,112.19 L159.39,113.03 L160,113.21 L159.45,112.79 L159.33,113.19 L159.39,113.94 L160.12,114.26 L159.83,113.93 L160.11,114.15 L159.96,114.81 L160.19,115.35 L160.15,115.53 L160.23,115.78 L160.28,115.9 L160.23,115.97 L160.41,117.43 L160.51,116.79 L160.19,117.18 L160.73,117.55 L160.63,118.19 L160.49,118.11 L160.82,119.09 L160.41,118.71 L161.4,118.89 L161.03,119.25 L161.15,119.95 L161.05,120.09 L161.8,120.15 L161.78,120.53 L161.7,120.54 L162.1,121.42 L162.15,121.3 L162.03,122.04 L162.14,122.36 L162.45,122.27 L162.58,122 L162.53,122.71 L163.19,123.09 L163.51,123.31 L163.21,123.29 L163.77,124.31 L163.74,124.34 L164.18,124.5 L164.35,124.67 L164.43,125.04 L164.49,124.6 L164.85,125.45 L165.14,124.7 L165.4,124.8 L165.86,124.76 L166.12,124.59 L166.55,124.68 L167.02,124.62 L166.86,124.6 L167.44,124.26 L167.58,124.57 L168.14,124.04 L168.7,124.07 L168.99,123.95 L168.74,123.56 L169.53,124.47 L169.8,124.35 L169.88,124.45 L170.35,124.68 L170.82,124.8 L170.84,124.01 L171.37,125.04 L171.75,124.68 L171.89,124.77 L172.33,125.03 L172.61,125.56 L173.24,125.56 L173.38,125.41 L173.48,124.84 L173.59,124.66 L173.89,124.58 L174.41,124.99 L174.2,124.47 L174.78,124.68 L174.92,124.47 L175.55,124.22 L176.22,124.98 L176,125.1" fill="none" stroke="#000" stroke-width="1.6" stroke-linejoin="round" stroke-linecap="round" />
<path d="M49.46,243.09 L49.83,243.65 L50.01,243.22 L50.76,242.97 L51.11,243.58 L51.01,243.12 L51.53,242.96 L51.74,242.81 L52.24,243.73 L52.46,243.03 L52.32,243.14 L53.02,242.72 L52.84,243.58 L53.14,242.5 L53.71,243.47 L53.28,242.16 L54.23,241.91 L54.13,242.61 L54.31,241.48 L54.89,240.85 L55.17,240.93 L54.85,240.49 L55.22,241 L55.7,241.25 L56.15,240.62 L55.84,241.41 L56.72,241.84 L56.45,241.52 L57.12,241.06 L57.15,241.78 L57.31,241.14 L58.18,241.44 L58.26,240.99 L58.86,241.49 L58.48,241.25 L58.4,240.29 L58.74,240.18 L59.18,240.11 L58.59,239.93 L59.15,240.09 L58.83,239.28 L58.83,238.27 L58.96,238.98 L59.27,237.88 L59.45,238.15 L59.71,238 L59.68,237.17 L59.69,236.82 L59.66,236.94 L59.67,236.93 L59.96,236.69 L59.69,236.04 L59.77,235.43 L60.11,235.37 L60.48,236.15 L60.34,235.21 L60.68,234.42 L60.72,234.48 L61.05,234.74 L60.84,234.29 L61.68,234.11 L61.97,234.4 L62.08,234.64 L62.09,234.08 L62.62,234.13 L62.64,235.3 L62.76,235.1 L63.52,236.31 L63.61,235.86 L63.04,235.56 L63.49,236.2 L63.95,236.41 L63.94,237.82 L64.37,237.12 L64.69,236.82 L64.33,237.21 L64.73,236.37 L64.59,236.17 L64.57,235.15 L65.33,235.7 L64.88,235.28 L65.43,234.85 L65.56,234.21 L66.07,234.71 L66.23,234.18 L66.29,233.71 L66.57,233.68 L66.57,233.37 L66.7,233.53 L67.22,234.57 L67.9,234.1 L67.23,234.64 L68.05,234.57 L68.42,235.18 L68.02,235.05 L68.56,234.73 L68.45,235.5 L68.8,235.45 L69.18,235.88 L69,236.03 L69.5,236.4" fill="none" stroke="#000" stroke-width="1.5" stroke-linejoin="round" stroke-linecap="round" />
<path d="M69.5,236.4 L71,227.5" fill="none" stroke="#333" stroke-width="0.9" stroke-linejoin="round" stroke-linecap="round"/>
<path d="M71.38,227.95 L71.38,227.19 L71.43,227.11 L71.23,226.86 L71.79,226.62 L72.15,225.81 L72.26,226.62 L72.13,226.31 L71.95,225.2 L72.26,224.75 L72.52,224.76 L73.05,223.77 L72.61,225.6 L72.84,225.31 L72.8,225.45 L72.76,225.59 L73.07,225.99 L72.99,226.32 L73.32,226.51 L73.17,226.99 L73.77,227.21 L73.57,227.56 L73.71,227.45 L74.26,228.18 L73.85,228.14 L74.19,228.61 L74.1,228.42 L74.57,228.98 L74.3,228.86 L74.39,229.74 L74.9,229.88 L74.71,230.07 L75.01,230.36 L75.03,230.78 L74.96,231.32 L75.5,231.14 L75.51,231.81 L75.68,231.93 L76.39,232.26 L76.23,232.11 L76.52,232.19 L76.45,233.22 L76.7,232.64 L77.02,233.73 L76.47,233.87 L77.41,233.6 L77.5,233.67 L77.57,235.05 L77.46,235.04 L77.68,234.46 L77.87,235.09 L78.02,235.67 L78.33,235.75 L78.85,235.94 L78.6,236.37 L78.61,236.39 L78.97,237.21 L78.98,236.6 L79.19,237.2 L79.19,237.91 L79.68,237.95 L79.83,237.61 L80.12,238.27 L80.31,238.35 L80.22,238.13 L80.97,239.23 L80.82,239.16 L80.71,239.77 L81.61,239.31 L81.44,240.05 L82.28,239.35 L81.96,240.31 L82.63,240.49 L82.92,239.75 L82.4,241.17 L82.76,241.32 L83.56,241.6 L83.61,242.15 L84.29,241.49 L84.15,241.4 L84.59,241.64 L85.01,241.53 L85.19,242.26 L85.38,242.83 L85.61,242.83 L85.57,242.78 L86.27,242.73 L86.45,242.62 L86.74,242.76 L87.07,242.18 L87.4,242.85 L87.8,242.75 L88.08,243.5 L88.78,243.12 L88.98,243.74 L88.99,243.88 L89.64,243.5 L89.65,243.43 L90.08,243.85 L90.54,243.7 L90.79,243.7 L91.09,244.12 L90.97,243.96 L91.42,243.19 L92.24,243.8 L92.27,243.16 L92.34,243.26 L93,243.43 L93.43,243.58 L93.68,243.11 L93.8,243.77 L93.96,243.57 L94.32,243.01 L95.33,243.18 L95.44,243.25 L95.43,243.5 L95.48,243.7 L96.08,243.77 L96.44,242.9 L96.72,243.66 L96.83,244.03 L97.42,243.66 L97.85,243.15 L97.56,242.96 L97.92,243.68 L98.11,243.46 L98.53,243.57 L98.73,243.72 L99.34,243.81 L99.68,243.72 L99.68,243.8 L100.31,242.88 L100.49,243.51 L100.42,244.05 L101.05,243.68 L101.58,243.62 L101.59,243.82 L102.26,243.38 L102.49,243.37 L102.18,243.64 L102.92,242.96 L103.39,243.34 L103.74,243.37 L103.73,242.82 L103.96,243.1 L103.96,243.07 L104.59,242.8 L105.15,241.72 L105.21,242.41 L105.4,242.03 L105.63,243.07 L105.94,241.68 L106.43,242.33 L106.55,242.73 L107.34,242.68 L107.87,242.58 L107.35,242.67 L107.96,242.91 L108.22,242.02 L108.04,241.49 L108.41,242.33 L108.81,241.22 L108.89,241.78 L109.03,240.56 L109.51,241.13 L109.48,241.41 L109.75,240.33 L109.75,240.71 L109.59,240.51 L110.24,240.09 L110.82,240.14 L110.88,239.72 L111.29,240.41 L111.16,240.17 L112.25,239.98 L111.85,240.78 L112.37,240.49 L112.74,241.01 L112.66,241.68 L112.63,241.81 L113.01,241.61 L113.4,241.44 L114.04,241.89 L113.84,241.02 L114.19,241.69 L114.7,242.21 L114.79,242.11 L115.29,242.32 L115.44,241.52 L115.52,241.73 L116.11,242.31 L116.19,242.34 L116.51,242.13 L117.23,242.24 L117.7,242.63 L117.62,241.61 L118.14,241.46 L118.57,242.41 L118.42,240.83 L119.16,241.07 L119.43,241.46 L119.48,242.02 L120.47,240.99 L120.13,241.34 L120.27,240.41 L120.98,240.18 L121.52,241 L121.43,240.85 L122.19,240.35 L121.91,239.69 L122.16,240.05 L122.26,239.61 L122.24,239.77 L122.37,239.02 L122.5,238.55 L122.74,238.51 L123.14,238.81 L123.1,237.88 L123.28,237.86 L123.29,237.48 L123.18,237.02 L123.81,237.21 L123.77,237.4 L123.73,237.51 L124.16,237.03 L124.03,238.01 L124.64,237.84 L124.92,237.8 L125.24,238.94 L124.83,238.71 L125.04,239.04 L124.99,239.41 L125.14,240.13 L125.63,239.82 L125.61,240.03 L125.85,240.58 L126.13,240.23 L126.78,240.83 L126.82,240.74 L126.72,241.08 L127.09,241.47 L127.67,242.13 L127.78,241.82 L127.88,242.63 L128.12,242.23 L128.3,242.6 L128.7,242.68 L129.13,243.32 L129.42,242.99 L129.5,243.2" fill="none" stroke="#000" stroke-width="1.5" stroke-linejoin="round" stroke-linecap="round" />
<path d="M129.5,243.2 L130.8,221" fill="none" stroke="#333" stroke-width="0.9" stroke-linejoin="round" stroke-linecap="round"/>
<path d="M130.58,221.52 L130.53,221.83 L131.05,221.8 L131.02,222.43 L130.82,222.03 L131.25,222.05 L130.94,222.71 L130.98,223.29 L131.11,223.24 L131.62,224.3 L130.95,223.94 L131.39,224.4 L131.56,224.73 L131.7,224.78 L131.58,225.5 L131.47,225.35 L131.37,226.05 L131.51,226.04 L131.89,225.9 L131.8,226.69 L131.49,227.31 L131.97,227.28 L131.68,227.9 L132.03,228.17 L132.29,228.7 L132.57,228.72 L131.99,228.82 L131.9,229.01 L131.72,229.42 L132.31,229.71 L132.16,230.4 L132.12,230.85 L131.87,230.6 L132.17,230.68 L132.52,231.79 L132.56,231.18 L132.42,232.04 L132.44,232.18 L132.13,232.29 L132.89,232.75 L132.56,233.59 L132.61,233.13 L132.78,234.02 L133.01,233.72 L133.28,234.08 L133.04,234.24 L133.79,234.63 L133.82,234.45 L133.98,235.38 L134.78,235.07 L134.69,235.88 L134.97,235.55 L134.62,235.59 L135.19,236.72 L134.87,236.43 L134.72,237.11 L135.45,237.56 L135.59,237.47 L135.68,238.19 L136.11,238.39 L135.94,238.33 L136.28,238.59 L136.29,238.91 L136.34,239.38 L136.44,240.2 L136.8,240.38 L136.71,240.62 L137.06,240.76 L137.09,240.5 L137.16,240.94 L137.14,241.72 L137.05,240.96 L137.44,241.66 L137.87,242.1 L137.95,242.98 L137.85,242.81 L138.47,243.13 L137.85,243.67 L138.9,243.74 L138.41,243.94 L139.12,243.78 L139.03,244.26 L139.67,244.03 L140,244.11 L139.9,244.8" fill="none" stroke="#000" stroke-width="1.5" stroke-linejoin="round" stroke-linecap="round" />
<path d="M139.9,244.8 L140.7,201.8 L141.5,185.1" fill="none" stroke="#333" stroke-width="0.9" stroke-linejoin="round" stroke-linecap="round"/>
<path d="M141.5,185.1 L142.6,201.8 L143.8,217.8 L145.4,233.7 L146.8,241.5" fill="none" stroke="#000" stroke-width="1.3" stroke-linejoin="round" stroke-linecap="round" />
<path d="M146.8,241.5 L147.5,236 L147.6,187" fill="none" stroke="#333" stroke-width="0.9" stroke-linejoin="round" stroke-linecap="round"/>
<path d="M147.6,187 L148.9,188.4 L149.9,198.2 L150.7,213.6" fill="none" stroke="#000" stroke-width="1.3" stroke-linejoin="round" stroke-linecap="round" />
<path d="M150.7,213.6 L151.7,198.2 L152.2,160.3" fill="none" stroke="#333" stroke-width="0.9" stroke-linejoin="round" stroke-linecap="round"/>
<path d="M152.2,160.3 L152.8,185 L153.4,200" fill="none" stroke="#000" stroke-width="1.3" stroke-linejoin="round" stroke-linecap="round" />
<path d="M153.4,200 L154.1,190 L154.4,138.2" fill="none" stroke="#333" stroke-width="0.9" stroke-linejoin="round" stroke-linecap="round"/>
<path d="M154.4,138.2 L155.2,187" fill="none" stroke="#000" stroke-width="1.3" stroke-linejoin="round" stroke-linecap="round" />
<path d="M155.2,187 L155.9,160" fill="none" stroke="#333" stroke-width="0.9" stroke-linejoin="round" stroke-linecap="round"/>
<path d="M155.9,160 L156.6,201 L157.3,215 L158,226.2 L159.1,234.5 L160.1,241.5" fill="none" stroke="#000" stroke-width="1.3" stroke-linejoin="round" stroke-linecap="round" />
<path d="M160.15,241.5 L160.18,241.45 L160.22,242.18 L160.41,242.77 L160.81,242.27 L161.09,242.92 L161.12,242.99 L161.24,243.28 L161.65,243.01 L161.87,243.66 L162.24,243.45 L162.54,243.6 L162.64,243.85 L163.09,243.66 L163.83,243.53 L163.9,243.27 L164.37,243.31 L164.27,243.14 L164.79,243.41 L165.32,243.14 L165.41,242.93 L165.84,243.09 L166.25,242.86 L166.34,243.42 L166.22,243.05 L166.63,242.66 L166.77,242.09 L166.76,241.63 L167.3,241.41 L167.19,241.48 L167.27,240.82 L167.8,240.38 L167.68,240.53 L167.64,239.99 L168.03,240.12 L168.17,239.32 L168.23,239 L168.18,238.76 L168.42,238.81 L168.33,238.65 L168.78,238.5 L168.75,237.86 L168.77,237.4 L168.91,237 L169.18,237.65 L169.17,238.12 L169.08,238.12 L169.22,238.42 L169.38,238.36 L169.25,238.74 L169.32,239.41 L169.46,240.08 L169.72,240.36 L169.68,240.19 L169.63,240.9 L169.67,240.92 L169.77,241.21 L170.05,241.52 L170.1,242.08 L170.38,242.07 L170.26,242.22 L170.46,242.81 L170.63,243.03 L170.79,243.5 L171.36,243.53 L171.53,243.38 L171.1,243.11 L171.54,243.17 L171.11,242.65 L171.52,242.39 L171.59,242.01 L171.61,241.39 L172,241.91 L171.72,241.12 L172.06,240.99 L171.79,240.77 L172.05,240.34 L172.28,240.33 L172.35,239.82 L172.47,239.31 L172.36,239 L172.23,239.01 L172.16,238.34 L172.49,238.24 L172.64,237.82 L172.63,237.11 L172.66,237.32 L173.04,237.78 L172.7,237.8 L172.93,238.06 L172.85,238.64 L172.9,239.03 L173.19,239.29 L173.53,239.51 L173.25,239.64 L173.48,240.11 L173.46,239.99 L173.58,240.43 L173.57,241.22 L173.66,241.18 L173.82,240.86 L173.95,241.91 L174.03,241.97 L174.55,242.3 L174.79,242.6 L174.8,242.9" fill="none" stroke="#000" stroke-width="1.5" stroke-linejoin="round" stroke-linecap="round" />
<path d="M49.46,364.2 L49.8,364.5 L50.05,364.25 L50.3,364.55 L50.62,364.27 L51.05,364.29 L51.14,364.39 L51.55,364.46 L52.03,364.19 L52.1,364.22 L52.5,364.2" fill="none" stroke="#000" stroke-width="1.35" stroke-linejoin="round" stroke-linecap="round" />
<path d="M52.5,364.2 L53.2,330 L53.4,282.3 L54.2,259" fill="none" stroke="#333" stroke-width="0.9" stroke-linejoin="round" stroke-linecap="round"/>
<path d="M54.14,258.93 L54.26,258.51 L54.41,258.36 L54.67,257.73 L54.56,257.41 L54.7,257.15 L54.77,256.81 L54.84,256.79 L54.95,256.11 L55.17,256.01 L55.36,256.55 L55.53,256.92 L55.42,257.23 L55.54,257.66 L55.57,258 L55.7,258.23 L55.62,258.15 L55.88,258.66 L55.89,258.89 L55.9,259.55 L55.86,259.83 L55.96,260.07 L56.04,260.44 L55.96,260.67 L56.08,260.93 L55.98,261.11 L56.07,261.55 L55.94,261.87 L56.15,262.16 L56.05,262.59 L56.25,262.77 L56.33,263.17 L56.17,263.54 L56.25,263.8 L56.41,263.94 L56.24,264.26 L56.26,264.59 L56.37,265.06 L56.39,265.42 L56.45,265.51 L56.34,265.82 L56.39,266.19 L56.35,266.66 L56.4,266.88 L56.33,267.01 L56.46,267.45 L56.47,267.82 L56.41,268.11 L56.38,268.46 L56.45,268.57 L56.44,268.88 L56.45,269.27 L56.44,269.66 L56.38,269.93 L56.46,270.31 L56.34,270.66 L56.58,270.86 L56.56,271.01 L56.62,271.64 L56.65,271.8 L56.58,272.33 L56.67,272.74 L56.67,273 L56.75,273.42 L56.83,273.84 L56.82,274 L56.86,274.53 L56.98,274.82 L56.83,275.11 L57.09,275.5 L57.09,275.86 L57.21,276.33 L57.24,276.44 L57.3,276.87 L57.62,277.03 L57.62,277.61 L57.68,277.95 L57.81,277.93 L57.85,278.61 L58,278.57 L57.97,279.31 L58.17,279.53 L58.3,279.86 L58.38,280.23 L58.33,280.58 L58.77,280.81 L58.79,281.31 L58.94,281.76 L58.86,281.98 L58.85,282.2 L59.16,282.47 L59.2,282.53 L59.39,283.16 L59.32,283.26 L59.37,283.46 L59.69,284.05 L59.72,284.16 L59.66,284.65 L59.57,285.17 L59.85,285.21 L60.03,285.78 L59.97,286.11 L60.13,286.27 L60.1,286.53 L60.1,286.76 L60.33,286.96 L60.07,287.36 L60.28,287.76 L60.48,288.1 L60.37,288.42 L60.43,288.7 L60.5,289.09 L60.56,289.81 L60.72,289.69 L60.67,290.19 L60.71,290.48 L60.8,290.78 L60.83,291.12 L60.76,291.24 L60.87,291.51 L60.8,292.03 L61.07,292.34 L60.82,292.74 L60.99,292.92 L61.01,293.26 L61.04,293.74 L61.1,293.81 L61.09,294.26 L61,294.51 L61.11,294.74 L60.97,295.07 L61.11,295.63 L61.27,295.72 L61.36,295.84 L61.33,296.34 L61.34,296.68 L61.34,297.05 L61.25,297.14 L61.51,297.66 L61.47,297.91 L61.5,298.31 L61.37,298.72 L61.51,298.95 L61.48,299.19 L61.5,299.45 L61.81,299.73 L61.64,300.37 L61.59,300.57 L61.56,300.48 L61.86,301.13 L61.7,301.42 L61.74,301.71 L61.84,301.88 L61.83,302.31 L61.85,302.57 L62.07,303.01 L62.17,303.28 L62.07,303.44 L62.09,303.83 L62.2,304.31 L62.17,304.76 L62.25,304.82 L62.27,305.33 L62.51,305.73 L62.47,305.8 L62.36,306.43 L62.56,306.68 L62.75,306.83 L62.68,307.36 L62.83,307.73 L62.9,308.11 L62.83,308.4 L63,308.64 L63.23,308.7 L63.05,309.32 L63.22,309.48 L63.21,310.01 L63.24,310.28 L63.36,310.55 L63.48,310.88 L63.5,311.25 L63.64,311.63 L63.62,311.97 L63.58,312.19 L63.75,312.47 L63.71,312.84 L63.67,312.96 L63.92,313.46 L63.78,313.77 L63.95,314.01 L64.01,314.23 L63.96,314.63 L64.14,314.83 L64.05,315.34 L64.24,315.5 L64.19,316.01 L64.24,316.44 L64.39,316.45 L64.38,316.87 L64.32,317.23 L64.43,317.42 L64.42,318.06 L64.56,318.38 L64.61,318.43 L64.56,318.95 L64.71,318.97 L64.76,319.42 L64.76,319.63 L64.69,320.07 L64.86,320.44 L64.8,320.71 L64.8,321.1 L65.01,321.45 L65.09,321.89 L65.08,322.04 L65,322.3 L65.18,322.8 L65.09,322.92 L65.27,323.45 L65.32,323.47 L65.31,324.15 L65.32,324.31 L65.48,324.51 L65.44,325.23 L65.54,325.23 L65.57,325.51 L65.47,325.96 L65.58,326.05 L65.65,326.58 L65.56,326.94 L65.65,327.16 L65.76,327.42 L65.76,327.61 L65.83,327.9 L65.81,328.24 L65.84,328.67 L65.88,329.09 L65.98,329.36 L65.98,329.45 L66.01,329.77 L66.22,330.15 L66.23,330.43 L66.05,330.84 L66.24,330.83 L66.28,331.17 L66.3,331.83 L66.29,332 L66.33,332.36 L66.36,332.58 L66.39,333.09 L66.39,333.31 L66.41,333.5 L66.61,333.87 L66.56,334.24 L66.62,334.58 L66.71,334.86 L66.54,335.19 L66.84,335.28 L67,335.73 L66.83,336.03 L66.96,336.54 L67,336.89 L67.06,336.97 L67.02,337.23 L67.09,337.58 L67.12,338.05 L67.17,338.32 L67.06,338.71 L67.32,338.91 L67.44,339.11 L67.51,339.56 L67.51,339.95 L67.43,340.13 L67.53,340.42 L67.59,340.78 L67.55,341.37 L67.71,341.53 L67.89,341.71 L67.79,342.08 L67.94,342.46 L68.04,342.52 L68.04,342.98 L68.21,343.48 L68.43,343.72 L68.3,344.13 L68.42,344.43 L68.4,344.47 L68.76,344.89 L68.67,345.34 L68.86,345.6 L69.01,345.97 L69.1,346.37 L69.09,346.57 L69.14,346.84 L69.21,346.99 L69.3,347.37 L69.47,347.92 L69.61,348.22 L69.71,348.49 L69.8,348.61 L69.79,348.94 L70.09,349.42 L70.15,349.48 L70.05,349.99 L70.23,350.23 L70.27,350.54 L70.39,350.68 L70.54,351.25 L70.66,351.55 L70.66,351.69 L70.84,352.17 L70.89,352.48 L71.1,352.81 L71.03,352.88 L71.14,353.76 L71.23,353.59 L71.26,353.98 L71.53,354.51 L71.54,354.85 L71.6,355.24 L71.67,355.34 L71.75,355.79 L71.83,355.99 L71.87,356.22 L72.03,356.7 L72.28,357.04 L72.28,357.39 L72.31,357.54 L72.43,358.04 L72.56,358.37 L72.77,358.65 L72.89,359.06 L73.07,359.22 L73.37,359.61 L73.39,359.91 L73.65,360.24 L73.85,360.57 L74.17,360.65 L74.16,361.29 L74.44,361.25 L74.53,361.75 L74.85,361.89 L75.33,362.13 L75.62,362.34 L76.3,362.44 L76.74,362.36 L77.1,362.78 L77.48,362.82 L77.76,363.18 L78.33,363.46 L78.59,363.56 L78.98,363.5 L79.27,363.88 L79.71,364.03 L80.07,364.26 L80.42,364.33 L80.9,364.5" fill="none" stroke="#000" stroke-width="1.35" stroke-linejoin="round" stroke-linecap="round" />
<path d="M80.86,364.81 L81.6,364.63 L81.79,364.75 L82.07,364.71 L82.43,364.55 L82.62,364.93 L83.28,364.88 L83.32,365.27 L83.74,365.56 L84.17,365.24 L84.27,365.14 L84.91,365.24 L84.9,365.55 L85.4,365.61 L85.71,365.49 L85.88,365.47 L86.5,365.22 L87.22,365.25 L87.88,364.99 L88.13,364.89 L88.7,364.77 L88.73,364.36 L88.87,364.01 L89.38,364.14 L89.52,364.02 L89.99,363.36 L90.34,363.21 L91.09,362.94 L91.21,362.4 L91.77,362.38 L91.96,362.61 L92.26,362.34 L92.46,362.11 L92.79,361.87 L93.35,361.85 L93.46,361.12 L93.81,361.21 L94.09,361.2 L94.2,360.95 L94.8,360.32 L94.9,360.67 L95.48,360.52 L95.81,359.91 L96.15,360.2 L96.19,360.41 L96.51,360.42 L96.69,361.09 L97.25,360.82 L97.33,361.69 L97.36,361.51 L97.84,361.58 L97.92,362.35 L98.29,362.44 L98.66,362.71 L98.79,363.41 L99.26,363.48 L99.58,363.65 L100.14,363.53 L100.31,363.54 L100.59,363.44 L100.9,363.3" fill="none" stroke="#000" stroke-width="1.15" stroke-linejoin="round" stroke-linecap="round" />
<path d="M100.9,363.3 L101.8,356.9" fill="none" stroke="#333" stroke-width="0.9" stroke-linejoin="round" stroke-linecap="round"/>
<path d="M101.77,356.72 L101.99,356.6 L102,356.02 L102.53,355.18 L102.31,355.06 L102.74,354.72 L102.9,354 L103.19,354.36 L103.71,354.74 L103.87,355.14 L104.03,355.32 L104.34,355.58 L104.65,355.86 L104.71,356.68 L105.04,356.54 L105.1,356.85 L105.42,356.91 L105.54,357.37 L105.74,357.4 L105.83,357.95 L106.29,358.19 L106.29,358.01 L106.24,358.4 L106.64,358.82 L106.63,359.14 L106.88,359.14 L107.03,359.67 L107.52,359.68 L107.48,360.07 L107.61,360.37 L107.82,360.73 L107.89,361.08 L108.49,361.03 L108.59,361.59 L108.75,362.06 L108.69,362.11 L109.29,362.24 L109.53,362.89 L109.55,362.51 L110.07,362.27 L110.31,362.17 L110.58,362.1 L110.97,361.39 L110.99,361.21 L111.52,361.07 L111.47,360.49 L111.62,360.33 L112.23,360.6 L112.51,360.73 L112.8,360.35 L113.03,360.8 L113.64,361.02 L114.21,361.53 L114.02,361.87 L114.65,362.16 L114.68,362.27 L114.99,362.83 L115.16,362.71 L115.43,362.71 L116.01,363.33 L115.97,363.27 L116.43,363.52 L116.5,363.47 L117.1,363.95 L117.45,364.21 L117.48,364.12 L118.04,364.54 L118.47,364.55 L118.8,364.74 L119.27,364.97 L119.72,364.87 L120.07,365.02 L120.33,364.59 L120.83,365.31 L121.21,365.16 L121.45,365.03 L122.04,365.11 L122.49,365.35 L122.88,365.44 L122.89,365.46 L123.44,365.71 L123.8,365.57 L124.17,365.26 L124.38,365.04 L124.83,364.99 L125.24,364.82 L125.86,365.03 L125.95,365.26 L126.27,365.06 L126.61,365.05 L126.94,364.97 L127.29,364.96 L127.41,365.33 L128.16,365.52 L128.66,365.28 L128.93,365.23 L128.88,364.67 L129.22,364.69 L129.23,364.34 L129.17,363.73 L129.3,363.98 L129.35,363.76 L129.33,363.01 L129.64,362.86 L129.71,362.79 L129.61,362.07 L130,361.79 L130.14,361.64 L130.09,361.35 L130.38,360.8 L130.78,360.17 L130.67,360.41 L131.13,360.57 L131.46,360.92 L131.55,360.51 L131.59,361.65 L131.96,361.43 L132.13,362.11 L132.2,362.15 L132.52,362.67 L132.65,363.28 L132.53,363.04 L132.98,363.59 L133.11,363.6 L133.25,363.97 L133.71,364.07 L134.11,364.32 L134.23,364.46 L134.3,364.84 L134.76,364.82 L134.92,365.23 L135.33,365.4 L135.46,365.21 L136.02,365.44 L136.4,365.92 L136.56,366.22 L137.01,366.42 L137.25,366.47 L137.76,366.29 L138.06,366.22 L138.43,366.12 L138.58,365.95 L138.83,365.44 L138.83,365.14 L139.28,364.99 L139.1,364.61 L139.55,364.64 L139.44,364.01 L139.88,363.77 L139.82,363.42 L139.58,363.17 L139.75,362.58 L140.01,362.54 L140.06,362.47 L140.18,361.91 L140.53,361.58 L140.51,361.3 L140.35,361.19 L140.45,360.78 L140.61,360.32 L140.63,359.95 L140.75,359.87 L141.08,359.36 L141.11,359 L141.22,358.79 L141.03,358.51 L141.31,358.24 L141.34,357.27 L141.55,356.99 L141.57,356.94 L141.92,357.55 L142.03,357.75 L142.23,358.26 L142.29,358.58 L142.22,359.03 L142.52,359.09 L142.53,359.4 L142.73,359.73 L142.78,360.37 L142.95,360.43 L142.77,360.77 L143.06,361.16 L143.28,361.3 L143.23,361.71 L143.19,361.61 L143.51,362.36 L143.68,362.79 L143.62,362.98 L143.88,363.23 L144.12,363.57 L143.94,363.89 L144.06,364.4 L144.28,365.04 L144.5,365.04 L144.5,365.23 L145,365.37 L145.57,366.14 L145.81,365.67 L146.23,365.78 L146.4,365.7" fill="none" stroke="#000" stroke-width="1.15" stroke-linejoin="round" stroke-linecap="round" />
<path d="M146.4,365.7 L147.9,356" fill="none" stroke="#333" stroke-width="0.9" stroke-linejoin="round" stroke-linecap="round"/>
<path d="M147.99,355.91 L148.15,355.61 L148.18,355.3 L148.24,354.9 L148.17,354.58 L148.52,353.94 L149.02,353.8 L149.05,354.25 L149,354.76 L149.43,354.6 L149.07,355.1 L149.25,355.39 L149.61,355.89 L149.7,355.87 L149.73,356.16 L149.68,356.75 L149.74,356.73 L149.79,356.88 L150.08,357.26 L149.73,357.72 L150.14,358.31 L150.48,358.47 L150.37,359.06 L150.19,359.17 L150.75,359.73 L150.61,359.9 L150.72,360.37 L151.15,360.7 L151.22,361.28 L151.41,361.37 L151.42,361.92 L151.6,362" fill="none" stroke="#000" stroke-width="1.15" stroke-linejoin="round" stroke-linecap="round" />
<path d="M151.6,362 L153.1,353.8 L154.3,345.6" fill="none" stroke="#333" stroke-width="0.9" stroke-linejoin="round" stroke-linecap="round"/>
<path d="M154.21,345.38 L154.22,345.68 L154.4,346.19 L154.39,346.55 L154.46,346.77 L154.53,347.3 L154.43,347.72 L154.7,347.74 L154.58,348.15 L154.67,348.39 L154.47,348.71 L154.56,349.11 L154.6,349.61 L154.65,349.81 L154.63,350.19 L154.57,350.64 L154.68,350.69 L154.81,351.19 L154.79,351.47 L154.73,351.57 L154.83,351.96 L154.97,352.38 L154.95,352.82 L154.86,352.83 L155.08,353.31 L155.1,353.98 L155.35,354.28 L155.31,354.11 L155.37,354.84 L155.37,354.96 L155.29,355.21 L155.58,355.63 L155.54,355.92 L155.41,356.3 L155.64,356.66 L155.7,356.82 L155.61,357.15 L155.77,357.65 L155.69,357.77 L156,358.28 L156.09,358.48 L156.22,358.57 L156.3,359.2 L156.37,359.3 L156.64,359.8 L156.69,360.19 L156.9,360.37 L156.91,361.07 L157.17,361.34 L157.14,361.57 L157.26,362.23 L157.62,362.3 L157.8,362.79 L158.12,362.88 L158.17,363.25 L158.47,363.59 L158.56,363.89 L158.76,363.95 L159.03,364.05 L159.44,364.56 L159.58,364.71 L159.78,365.18 L160.07,365.19 L160.22,365.21 L160.64,365.68 L160.81,365.58 L161.44,365.72 L161.6,365.55 L162.28,366.01 L162.35,366.09 L162.63,365.92 L162.98,365.91 L163.5,365.83 L163.64,365.84 L164.02,365.77 L164.35,365.65 L164.85,365.83 L164.86,365.33 L165.44,365.46 L165.7,366.09 L166.15,365.65 L166.34,365.16 L166.73,365.08 L167,365.44 L167.36,365.56 L167.8,365.67 L168.47,365.51 L168.59,365.35 L168.93,365.27 L169.11,365.58 L169.59,365.58 L169.71,365.65 L170.14,365.41 L170.25,365.16 L170.69,365.52 L171.14,365.77 L171.33,365.52 L171.6,365.24 L171.95,365.54 L172.4,365.52 L172.61,365.36 L173.13,365.23 L173.12,365.38 L173.62,365.73 L173.92,365.78 L174.37,366.01 L174.67,365.68 L175.12,365.64 L175.4,365.7" fill="none" stroke="#000" stroke-width="1.15" stroke-linejoin="round" stroke-linecap="round" />
<path d="M49.47,481.44 L50.13,481.09 L50.39,481.36 L50.86,481.17 L51.42,481.32 L51.73,481.17 L52,481.31 L52.49,481.28 L52.99,481.26 L53.17,480.73 L53.31,480.53 L53.5,480.4" fill="none" stroke="#000" stroke-width="1.35" stroke-linejoin="round" stroke-linecap="round" />
<path d="M53.5,480.4 L53.6,405.3 L54.7,375" fill="none" stroke="#333" stroke-width="0.9" stroke-linejoin="round" stroke-linecap="round"/>
<path d="M54.78,375.01 L54.91,374.3 L55.15,374.26 L55.19,373.6 L55.3,373.3 L55.61,373.24 L55.79,373.12 L55.94,373.48 L56.02,374.05 L56.22,374.19 L56.16,374.57 L56.33,374.55 L56.22,375.19 L56.22,375.43 L56.22,375.65 L56.41,376.14 L56.46,376.42 L56.44,376.78 L56.51,376.94 L56.54,377.5 L56.49,377.83 L56.65,377.9 L56.6,378.29 L56.61,378.67 L56.6,379 L56.82,379.15 L56.55,379.72 L56.63,379.9 L56.54,380.23 L56.89,380.69 L56.84,380.9 L56.71,381.31 L56.7,381.69 L56.82,381.79 L56.88,382.35 L56.82,382.53 L56.91,382.89 L57.03,383.31 L56.94,383.65 L57.08,383.89 L56.97,384.27 L57.12,384.77 L57,384.93 L57.11,385.09 L57.12,385.42 L57.07,385.69 L57.09,386.13 L57.13,386.42 L57.03,386.56 L57.28,387.01 L57.09,387.34 L57.2,387.6 L57.18,388.15 L57.26,388.41 L57.2,388.63 L57.24,388.98 L57.21,389.41 L57.45,389.83 L57.55,390.11 L57.34,390.46 L57.55,390.74 L57.47,391 L57.65,391.46 L57.64,391.68 L57.67,392 L57.84,392.38 L57.79,392.53 L57.89,393.23 L57.98,393.39 L57.88,393.58 L57.91,393.83 L58.14,394.38 L58.08,394.63 L58.23,395.06 L58.08,395.34 L58.08,395.54 L58.25,395.94 L58.48,396.13 L58.45,396.66 L58.47,396.83 L58.5,397.03 L58.48,397.65 L58.6,397.68 L58.7,398.2 L58.67,398.31 L58.62,398.72 L58.73,399.09 L58.84,399.52 L58.85,399.63 L58.84,399.99 L59.01,400.28 L58.83,400.59 L59.06,400.86 L58.96,401.51 L59.05,401.52 L59.15,401.7 L59.18,402.17 L59.17,402.73 L59.3,402.87 L59.22,403 L59.36,403.56 L59.26,403.7 L59.42,404.09 L59.54,404.54 L59.48,404.7 L59.46,404.93 L59.56,405.27 L59.66,405.63 L59.58,405.9 L59.78,406.28 L59.73,406.4 L59.78,406.87 L59.77,407.18 L59.95,407.42 L59.75,407.95 L59.93,407.76 L59.9,408.29 L60.01,408.51 L59.98,409.02 L60.25,409.45 L60.2,409.85 L60.2,409.96 L60.28,410.33 L60.23,410.73 L60.22,411.05 L60.44,411.41 L60.4,411.6 L60.47,411.76 L60.36,412.37 L60.49,412.78 L60.41,412.68 L60.54,413.29 L60.48,413.63 L60.71,413.79 L60.73,414.03 L60.74,414.38 L60.92,414.76 L60.85,414.89 L60.74,415.49 L61.04,415.65 L60.7,416.1 L60.81,416.28 L60.93,416.67 L60.96,416.9 L61.03,417.33 L61.09,417.52 L61.08,418 L61.05,418.39 L61.19,418.61 L61.21,419.04 L61.19,419.08 L61.38,419.69 L61.35,419.64 L61.53,419.95 L61.29,420.41 L61.57,420.69 L61.57,420.97 L61.6,421.27 L61.57,421.61 L61.68,421.93 L61.66,422.19 L61.78,422.38 L61.61,422.9 L61.96,423.04 L61.85,423.51 L61.88,423.87 L62.16,423.92 L62.04,424.27 L62.03,424.43 L62.15,424.79 L62.3,425.01 L62.23,425.5 L62.39,425.77 L62.36,426.33 L62.57,426.65 L62.53,426.93 L62.62,426.9 L62.64,427.34 L62.66,427.47 L62.67,428.04 L62.93,428.36 L62.81,428.67 L62.75,429.24 L63.01,429.18 L62.86,429.53 L63.16,429.95 L63.27,430.14 L63.31,430.63 L63.27,430.72 L63.48,431.42 L63.38,431.72 L63.39,431.92 L63.44,432.36 L63.38,432.58 L63.74,432.72 L63.66,433.22 L63.69,433.27 L63.62,434.08 L63.76,433.88 L63.8,434.41 L63.76,434.64 L63.96,434.96 L64.02,435.41 L64.04,435.6 L64.04,436.01 L64.08,436.5 L63.99,436.67 L64.22,437.05 L64.2,437.3 L64.14,437.49 L64.39,438.08 L64.2,438.32 L64.25,438.64 L64.56,438.96 L64.43,439.33 L64.45,439.71 L64.53,439.93 L64.44,440.25 L64.66,440.58 L64.42,440.53 L64.78,440.99 L64.75,441.4 L64.8,441.77 L64.72,441.93 L64.85,442.35 L64.87,442.67 L64.97,442.84 L65,443.26 L65.03,443.2 L65.01,443.51 L65.04,444.02 L65.04,444.34 L65.13,444.72 L64.94,444.91 L65.21,445.22 L65.24,445.51 L65.17,445.87 L65.41,446.36 L65.31,446.51 L65.25,446.94 L65.48,447.03 L65.38,447.54 L65.49,447.65 L65.45,447.88 L65.33,448.33 L65.62,448.74 L65.48,449.1 L65.57,449.13 L65.83,449.44 L65.68,449.79 L65.77,450.24 L65.69,450.69 L65.82,450.94 L65.86,450.99 L66.01,451.27 L66,451.65 L65.91,452.19 L66,452.23 L66.1,452.51 L66,452.95 L66.16,453.15 L66.27,453.36 L66.16,453.74 L66.35,454.03 L66.37,454.55 L66.32,454.83 L66.42,455.27 L66.46,455.42 L66.48,455.77 L66.38,455.97 L66.45,456.54 L66.54,456.34 L66.76,457.14 L66.75,457.15 L66.63,457.54 L66.87,457.81 L66.82,458.31 L66.85,458.21 L67.04,458.83 L67.11,459.12 L67.07,459.39 L67.29,459.82 L67.44,460.17 L67.23,460.28 L67.67,460.54 L67.61,460.98 L67.71,461.42 L67.7,462.04 L67.77,462.01 L67.95,462.36 L68.09,462.52 L68.1,463.08 L68.13,463.23 L68.29,463.35 L68.29,463.76 L68.35,464.32 L68.59,464.46 L68.56,465.07 L68.65,465.31 L68.84,465.55 L68.97,465.65 L68.99,466.29 L68.98,466.39 L69.17,466.86 L69.32,466.78 L69.29,467.05 L69.57,467.27 L69.52,468.09 L69.63,468.05 L69.83,468.36 L69.81,468.91 L69.89,469.13 L70.16,469.61 L70.43,469.69 L70.55,470.11 L70.71,470.6 L70.73,470.72 L70.85,471.2 L70.94,471.68 L71.22,471.9 L71.14,471.83 L71.29,472.24 L71.43,472.68 L71.52,472.93 L71.7,473.19 L71.71,473.57 L71.82,473.75 L71.88,474.02 L72.16,474.43 L72.2,474.63 L72.34,474.91 L72.67,475.1 L72.58,475.93 L72.88,475.74 L72.86,476.23 L73.19,476.2 L73.41,476.46 L73.52,476.92 L73.69,477.26 L73.92,477.53 L74.16,477.91 L74.35,477.98 L74.55,478.12 L75,478.38 L75.12,478.69 L75.43,478.93 L75.62,478.91 L75.94,478.91 L76.07,479.16 L76.73,479.19 L76.99,479.51 L77.28,479.64 L77.73,479.76 L78.02,479.75 L78.26,480 L78.57,479.98 L78.91,480.09 L79.18,480.22 L79.52,480.35 L79.78,480.11 L80.21,480.39 L80.7,480.4" fill="none" stroke="#000" stroke-width="1.35" stroke-linejoin="round" stroke-linecap="round" />
<path d="M80.88,480.78 L80.87,480.53 L81.33,480.43 L81.85,480.07 L82.03,480.93 L82.6,480.65 L82.69,480.29 L83.12,480.56 L83.4,480.28 L83.85,480.51 L83.98,480.22 L84.35,480.46 L84.65,480.74 L84.99,481.16 L85.53,480.8 L85.66,480.84 L85.96,480.49 L86.31,480.82 L86.68,480.82 L86.78,480.57 L87.16,481.11 L87.8,480.53 L87.73,480.74 L87.99,481.19 L88.59,480.88 L89.09,480.96 L89.38,481.23 L89.4,481.29 L89.72,481.18 L90.11,481.27 L90.26,481.48 L90.48,481.06 L91.09,481.52 L91.38,480.97 L91.73,480.95 L91.95,480.69 L92.16,480.23 L92.51,479.6 L92.41,479.4 L92.75,479.61 L93.16,479.36 L93.29,479.29 L93.55,478.57 L93.43,478.15 L93.63,478.23 L93.83,477.69 L93.75,477.69 L94.45,477.42 L94.58,476.89 L94.86,476.45 L94.85,476.87 L95.24,476.26 L95.44,475.64 L95.59,475.41 L96.53,474.91 L96.91,475.29 L97.16,475.55 L97.22,475.35 L97.76,476.07 L97.81,475.95 L98.29,476.22 L98.5,476.77 L98.89,476.83 L99.09,477.23 L99.35,477.49 L99.79,477.82 L100.03,477.67 L100.11,478.03 L100.24,478.02 L100.78,478.17 L100.9,478.82 L101.29,478.77 L101.56,479.06 L101.98,479.34 L102.31,479.11 L102.6,478.93 L103.09,479.57 L103.5,479.64 L103.64,480.11 L104.16,479.85 L104.52,480.2 L104.7,480.43 L105.39,480.58 L105.65,480.81 L106.01,480.69 L106.09,480.87 L106.66,480.9 L106.9,481 L107.35,481.15 L107.77,481.22 L108.29,481.25 L108.59,481.18 L108.57,480.84 L109.39,480.95 L109.59,480.89 L110.16,480.67 L110.43,480.79 L110.82,481.19 L111.07,481.47 L111.52,481.3 L111.76,481.06 L111.93,481.14 L112.28,481.38 L112.59,481.61 L113.01,481.09 L113.3,480.82 L113.38,480.52 L113.58,479.87 L114,480.41 L114.06,479.84 L114.34,479.51 L114.37,478.97 L114.84,478.81 L115.09,478.52 L115.55,478.4 L115.74,478.44 L116.37,478.97 L116.37,479.07 L117.03,479.29 L117.03,479.2 L117.54,479.17 L117.75,479.64 L118.32,479.49 L118.47,480.15 L118.72,480.48 L119.1,480.56 L119.59,480.87 L119.96,480.99 L120.56,480.98 L120.79,480.85 L121.27,480.99 L121.48,481.16 L122.07,481.36 L122.28,481.25 L122.58,481.47 L123.01,481.35 L123.18,481.54 L123.6,481.38 L124.45,481.16 L124.36,480.76 L124.75,480.72 L124.6,480.49 L125.11,480.06 L125.48,480.26 L125.66,479.91 L126.12,479.64 L126.21,479.69 L126.92,479.79 L126.88,479.63 L127.27,479.78 L127.86,480.16 L128.22,480.31 L128.53,480.76 L128.61,480.24 L129.2,480.55 L129.6,480.25 L129.56,480.2 L130.03,479.71 L130.41,479.56 L130.2,479.17 L130.5,479.2 L131,478.44 L131.52,478.11 L131.47,478.07 L132.01,477.67 L131.9,477.61 L132.27,477.88 L132.76,477.74 L132.8,478.14 L133.34,478.73 L133.4,478.48 L133.74,478.87 L134.34,479.13 L134.61,478.76 L135.05,478.4 L135.34,478.33 L135.38,478.25 L136.03,478.51 L136.47,478.16 L137.36,478.63 L137.31,478.77 L137.55,478.53 L137.96,478.86 L138.38,478.86 L138.41,478.9 L138.89,479.3 L139.29,479.22 L139.72,479.1 L140.06,479.95 L140.36,479.6 L140.5,479.7" fill="none" stroke="#000" stroke-width="1.2" stroke-linejoin="round" stroke-linecap="round" />
<path d="M140.5,479.7 L141.5,475.3" fill="none" stroke="#333" stroke-width="0.9" stroke-linejoin="round" stroke-linecap="round"/>
<path d="M141.69,475.31 L141.63,474.84 L141.47,474.57 L142.03,474.1 L141.92,473.28 L141.99,473.72 L142.22,473.25 L141.85,473 L142.16,472.44 L142.22,472.38 L142.61,472.04 L142.7,471.22 L142.78,471.7 L143,471.74 L143.17,472.19 L143.39,472.33 L143.37,472.64 L143.32,473.08 L143.57,473.61 L143.68,473.58 L143.99,473.87 L144.18,474.61 L144.12,474.74 L144.02,475.01 L144.31,475.55 L144.31,476.07 L144.58,476.42 L144.52,476.31 L144.88,476.61 L144.86,476.99 L144.8,477.59 L144.98,477.6 L144.85,477.84 L145.2,478.13 L145.52,478.71 L145.47,478.62 L145.76,479.14 L145.81,479.91 L145.94,480.38 L146.05,480.27 L146.57,480.72 L146.8,481.2" fill="none" stroke="#000" stroke-width="1.2" stroke-linejoin="round" stroke-linecap="round" />
<path d="M146.8,481.2 L147.9,472.3 L148.9,466.3" fill="none" stroke="#333" stroke-width="0.9" stroke-linejoin="round" stroke-linecap="round"/>
<path d="M149.08,466.44 L148.91,466.64 L149.06,467.02 L149.16,467.37 L149.31,467.67 L149.4,468.12 L149.53,468.26 L149.69,468.99 L149.53,469.08 L149.61,469.25 L149.81,469.71 L150.03,469.79 L149.92,470.16 L150.22,470.65 L150.13,471.54 L150.2,471.45 L150.31,471.83 L150.25,472.74 L150.36,472.52 L150.46,472.94 L150.44,473.3 L150.68,473.94 L150.81,473.45 L150.63,474.07 L150.79,474.6 L150.86,475.01 L151.03,475.39 L151.18,475.68 L151.25,475.92 L151.66,475.96 L151.99,475.39 L151.65,475.44 L151.88,475.02 L151.86,474.55 L151.93,474.56 L152.2,473.78 L152.77,474.49 L152.69,474.15 L152.85,474.84 L152.91,475.06 L153.05,475.55 L153.4,476" fill="none" stroke="#000" stroke-width="1.2" stroke-linejoin="round" stroke-linecap="round" />
<path d="M153.4,476 L154.6,469.3 L155.5,464.1" fill="none" stroke="#333" stroke-width="0.9" stroke-linejoin="round" stroke-linecap="round"/>
<path d="M155.83,464.27 L155.78,464.34 L155.52,464.8 L155.54,464.96 L155.83,465.36 L155.75,465.83 L155.83,465.69 L155.93,466.58 L155.66,466.52 L156.08,466.74 L156.24,466.93 L156,467.33 L156.17,467.65 L156.17,468.31 L156.3,468.05 L156.58,468.86 L156.63,468.84 L156.57,469.56 L156.46,469.61 L156.78,469.91 L156.87,470.5 L156.8,471.18 L157.15,471.15 L156.91,471.25 L157.01,471.8 L157.03,472.27 L157.05,472.82 L157.09,472.75 L157.49,472.96 L157.47,473.72 L157.67,474.08 L157.68,474.09 L158.05,474.6 L157.92,474.75 L158.15,475.24 L158.23,475.51 L158.16,475.49 L158.29,475.6 L158.49,476.84 L158.66,476.73 L158.6,477.1 L158.93,477.25 L159.01,477.75 L159.21,478.02 L159.41,478.06 L159.8,478.46 L159.96,479.19 L160.01,479.13 L160.22,479.11 L160.66,480.02 L160.69,479.98 L161,480.17 L161.22,480.41 L161.4,480.46 L161.77,480.75 L162.03,480.78 L162.04,481.18 L162.39,481.37 L162.68,481.49 L162.69,481.54 L163.21,481.92 L163.55,482.24 L164.01,481.54 L164.26,481.87 L164.67,482.52 L164.89,481.84 L165.37,481.73 L165.52,482.18 L166.19,482.13 L166.36,482.17 L166.69,481.84 L167.28,481.69 L167.79,481.93 L167.96,481.96 L168.59,481.58 L168.76,481.89 L169,481.63 L169.39,481.93 L170,481.89 L170.07,481.66 L170.86,481.78 L170.86,481.49 L171.42,481.85 L171.9,481.45 L172.13,481.48 L172.3,481.42 L172.59,481.5 L172.94,481.03 L173.47,481.6 L173.88,481.71 L174.21,481.51 L174.6,481 L175,480.82 L175.4,480.9" fill="none" stroke="#000" stroke-width="1.2" stroke-linejoin="round" stroke-linecap="round" />
<path d="M53.5,412 L53.6,405 L54.7,375 L55.9,373.2" fill="none" stroke="#000" stroke-width="1.2" stroke-linejoin="round" stroke-linecap="round" />
<path d="M55.3,374.5 L55.6,383 L56.6,389" fill="none" stroke="#000" stroke-width="1.2" stroke-linejoin="round" stroke-linecap="round" />
<path d="M53.4,412 L53.9,405" fill="none" stroke="#000" stroke-width="1.8" stroke-linejoin="round" stroke-linecap="round" />
<path d="M53.4,290 L54.2,259 L55.2,256.1" fill="none" stroke="#000" stroke-width="1.1" stroke-linejoin="round" stroke-linecap="round" />
<path d="M54.8,258 L55.3,268 L56.4,274" fill="none" stroke="#000" stroke-width="1.1" stroke-linejoin="round" stroke-linecap="round" />
<path d="M229.77,87.08 L229.74,86.48 L229.9,88 L230.42,86.22 L230.35,87.47 L229.71,85.33 L231.55,84.95 L231.4,85.92 L231.48,87.24 L231.19,86.9 L232.1,85.16 L232.26,86.81 L232.02,86.12 L231.79,89.25 L233.32,87.67 L232.78,87.58 L233.35,85.54 L233.84,86.87 L232.98,86.95 L233.23,87.19 L234.5,86.04 L233.78,87.19 L234.38,86.77 L234.07,86.3 L234.46,85.57 L234.6,86.32 L234.51,85.56 L234.13,86.79 L235.38,86.64 L234.91,87.1 L234.96,87.2 L235.2,88.44 L234.86,86.23 L235.9,87.82 L235.12,86.84 L235.57,86.88 L236.25,86.14 L236.4,86.5" fill="none" stroke="#000" stroke-width="1.4" stroke-linejoin="round" stroke-linecap="round" />
<path d="M236.4,86.5 L236.5,74.4" fill="none" stroke="#333" stroke-width="1" stroke-linejoin="round" stroke-linecap="round"/>
<path d="M236.7,73.68 L236.5,73.56 L237.96,73.89 L237.91,75.43 L237.6,73.8" fill="none" stroke="#000" stroke-width="1.4" stroke-linejoin="round" stroke-linecap="round" />
<path d="M237.6,73.8 L237.8,62 L238.2,50 L238.9,42.2" fill="none" stroke="#333" stroke-width="1" stroke-linejoin="round" stroke-linecap="round"/>
<path d="M238.91,41.51 L239.5,42.76 L239.06,40.07 L239.65,40.61 L238.95,41.6 L239.2,42.71 L239.36,42.7 L240.72,40.02 L239.36,39.31 L239.72,40.89 L239.06,39.65 L240.53,40.58 L240.45,38.94 L239.82,37.83 L240.4,37.12 L240.76,40.06 L240.73,40.06 L239.57,38.64 L240.53,40.4 L240.32,41.03 L240.83,39.57 L239.62,40.18 L240.15,40.43 L240.41,40.25 L242.25,42.49 L240.69,43.51 L241.04,43.24 L240.81,42.82 L240.33,42.66 L241.03,44.69 L241.27,43.84 L241.05,43.83 L242.46,43.5 L240.85,44.69 L241.37,45.22 L242.63,44.97 L242.26,44.38 L242.85,45.03 L243.58,46.4 L244.11,46.13 L244.12,45.22 L243.65,46.14 L243.38,46.55 L243.71,46.09 L243.71,49.14 L243.77,47.5 L243.79,48.47 L244.13,48.1 L244.66,49.62 L243.78,47.71 L244.76,49.02 L244.2,50.21 L244.31,51.6 L245.36,51.22 L244.7,51.7 L243.73,51.04 L244.37,49.13 L245.47,51.78 L245.54,51.3 L245.92,52.24 L244.57,50.5 L244.53,51.4 L244.68,54.15 L245.09,52.12 L245.13,54.03 L245.86,54.17 L244.2,53.16 L245,53.17 L245.43,55.85 L246.21,53.59 L245.53,54.92 L246.77,56.18 L245.86,55.69 L245.19,54.89 L246.79,56.35 L246.68,55.4 L246.1,59.1 L247.27,55.22 L246.71,56.7 L247.05,57.99 L247.55,58.64 L247.43,59.09 L248.3,56.27 L248.22,57 L246.86,59.14 L248.35,59.26 L247.96,58.54 L247.44,59.11 L248.94,59.52 L248.26,61.05 L248.47,60.62 L248.62,61.27 L249.21,59.67 L247.21,60.76 L248.21,62.51 L249.03,61.99 L249.56,61.85 L249.21,62.43 L249.36,62.07 L249.7,62.28 L250.43,64.78 L249.13,64.22 L250.68,65.07 L248.85,66.34 L250.14,64.72 L249.79,66.03 L251.98,64.94 L249.47,66.54 L251.63,65.92 L251.28,65.62 L250.14,66.59 L251.84,66.21 L250.89,68.22 L250.94,68.46 L251.48,67.93 L251.8,66.82 L250.15,67.91 L251.38,67.78 L251.45,68.06 L250.69,68.48 L252.38,70.25 L252.32,69.93 L252.46,70.03 L251.84,69.23 L253.53,70.61 L254.04,71.04 L253.04,69.81 L254.12,70.78 L253.2,73.22 L253.53,72.57 L253.77,71.19 L254.94,71.41 L254.88,73.21 L252.83,73.25 L254.53,73.92 L254.69,71.17 L255.83,74.64 L255.43,72.98 L255,74.51 L255.71,73.82 L256.08,74.52 L255.15,73.47 L257.04,74.99 L256.51,73.1 L255.74,74.28 L258.58,73.87 L256.81,73.37 L257.38,74.75 L257.25,72.74 L256.55,72.42 L256.89,70.75 L257.87,72.53 L256.82,72.48 L259.09,70.53 L257.17,70.63 L258.21,70.96 L259.33,71.93 L259.59,73.48 L258.44,73.06 L257.95,72.32 L259.73,74.27 L258.53,73.44 L259.48,74.27 L258.58,74.06 L259.05,74.43 L259.97,75.13 L259.54,75.08 L260.48,76.33 L260.72,76.32 L260.64,75.98 L259.49,74.57 L261.18,74.93 L261.11,76.9 L262.33,76.35 L260.31,76.13 L261.44,75.23 L262.33,77.54 L262.61,76.85 L261.91,77.2 L263.05,77.08 L262.14,78.52 L263.14,76.88 L262.58,80 L263.77,77.03 L263.35,78.91 L264.24,78.62 L264.14,77.22 L264.94,79.64 L264.54,80.38 L265.62,78.14 L264.53,80.51 L265.68,81.04 L263.72,80.22 L264.82,80.2 L265.36,80.13 L265.77,80.19 L264.92,83.27 L265.44,82.75 L265.81,82.57 L265.58,83.55 L265.66,83.32 L266.24,83.13 L265.41,84.22 L267.35,82.21 L267.66,84.13 L266.87,83.08 L267.94,84.9 L266.7,84.57 L267.04,85.57 L267.78,84.45 L266.91,83.61 L267.44,86.93 L268.19,85.6 L268.51,87.2 L268.4,86.4" fill="none" stroke="#000" stroke-width="1.4" stroke-linejoin="round" stroke-linecap="round" />
<path d="M268.4,86.4 L269.6,69.3 L270.7,46.1 L271.5,32.1 L273,25.1" fill="none" stroke="#333" stroke-width="1" stroke-linejoin="round" stroke-linecap="round"/>
<path d="M272.65,24.19 L273.05,25.8 L273.77,23.94 L274.69,25.33 L273.04,22.96 L273.81,23.04 L274.39,22.96 L274.42,20.6 L273.78,22.24 L274.19,23.1 L275.1,21.33 L274,22.54 L273.68,22.5 L274.24,21.45 L274.55,23.24 L273.69,22.47 L275.59,21.93 L274.18,24.15 L275.06,25.21 L274.41,24.01 L275.05,25.77 L275.13,26.53 L274.6,24.75 L275.19,24.94 L275.47,26.14 L274.51,26.62 L274.64,26.31 L274.47,27.25 L274.81,26.56 L275.24,26.82 L275.31,29.11 L275.34,26.65 L275.93,28.98 L276.87,28.8 L275.77,29.91 L274.95,30.3 L275.31,29.3 L276.89,29.92 L276.94,29.58 L276.9,29.38 L275.57,29.05 L276.09,31.86 L276.2,31.35 L276.17,31.68 L276.16,30.89 L275.85,32.2 L277.54,32.83 L276.19,31.16 L276.6,32.72 L276.2,33.37 L276.71,33.54 L277.72,33.79 L275.93,34.29 L277.26,33 L276.58,34.44 L276.83,33.79 L276.66,35.26 L277.69,35.32 L277.54,36.67 L276.43,36.07 L278.25,37.25 L278.11,38.01 L277.68,37.38 L278.28,37.4 L278.89,37.46 L277.44,38.73 L276.71,38.3 L277.59,37.91 L277.34,41.17 L277.96,40.04 L278.37,39.21 L278.64,37.92 L278.31,41.88 L278.3,40.31 L277.97,41.28 L278.65,41.07 L278.65,40.93 L278.92,41.86 L278.23,40.92 L279.36,41.74 L277.68,42.67 L279.96,41.54 L278.05,43.34 L279,42.47 L279.98,44.94 L278.87,43.57 L278.53,45.99 L279.41,45.96 L280.1,44.87 L278.9,45.51 L279.54,43.93 L280.48,46.1 L280.57,43.47 L280.79,46.77 L280.09,47.22 L280.32,47.16 L280.11,46.45 L280.01,47.44 L279.51,46.23 L280.83,48.35 L279.9,48.26 L280.49,49.24 L281.8,46.79 L282.33,47.62 L280.78,49.79 L280.73,47.38 L282.11,51.24 L280.33,50.38 L281.32,50.06 L281.52,51.13 L280.68,51.31 L282.66,50.68 L282.42,50.21 L282.34,54.01 L282.79,50.85 L282.32,50.71 L282.96,52.34 L282.4,54.11 L282.97,54.97 L281.85,53.14 L282.29,56.17 L282.55,54.55 L281.72,54.02 L282.72,54.61 L282.56,55.95 L282.3,53.86 L283.2,55.57 L282.9,56.58 L283.31,56.69 L283.27,58.05 L283.74,56.9 L282.91,58.19 L283.39,56.9 L284.45,55.65 L283.74,58.92 L284.6,60.77 L284.87,60.39 L283.21,59.59 L284.53,60.43 L284.48,58.14 L285.24,60.2 L284.49,59.91 L284.53,60.71 L285.58,60.21 L285.46,59.22 L284.77,59.01 L285.4,59.97 L285.54,62.07 L285.74,62.53 L286.1,61.77 L285.99,62.02 L285.67,63.49 L285.45,63.87 L285.18,62.88 L287.34,62.87 L287.26,63.97 L285.96,62.55 L287.21,64.64 L285.77,65.28 L286.86,65.28 L287.29,65.21 L286.06,65.14 L286.31,64.7 L287.22,64.77 L286.96,67.52 L286.79,65.89 L287.64,65.29 L287.55,66.75 L288.1,66.6 L288.24,66.68 L288.49,67.48 L288.37,67.57 L288.15,69.11 L288.41,70.53 L288.83,68.47 L288.27,68.75 L288.93,69.74 L287.95,71.54 L289.93,69.93 L289.64,70.23 L288.89,72.03 L290.35,70.86 L288.98,70.49 L290.4,70.32 L291.62,71.64 L289.74,72.92 L291.47,72.87 L291.07,73.58 L291.51,71.72 L292.07,73.86 L292.43,74.17 L291.57,72.2 L291.52,74.65 L292.52,72.76 L292.63,72.41 L294.71,73.44 L293.18,73.54 L294.39,73.82 L293.87,73.04 L294.87,72.27 L295.68,74.64 L296.41,72.98 L295.2,75.02 L295.5,73.93 L296.48,73.27 L295.74,73.59 L296.44,74.4 L296.41,73.13 L297.58,72.97 L296.48,74.12 L297.96,72.91 L298.4,72.43 L297.9,72.87 L298.2,70.27 L298.22,72.29 L298.37,72.18 L298.79,71.01 L297.76,71.3 L298.7,70.05 L297.52,71.46 L299.82,69.37 L301.05,71.44 L299.58,70.17 L300.36,71.19 L301.3,73.22 L301.18,71.24 L300.72,71.32 L301.02,72.9 L301.58,72.27 L300.85,73.24 L300.32,73.33 L301.3,74.54 L302.36,74.57 L301.14,73.61 L301.96,74.71 L302.13,74.81 L300.57,75.69 L300.51,74.9 L301.63,75.55 L302.11,76.65 L302.96,76.28 L301.59,77.14 L302.74,76.18 L302.59,78.67 L303.06,77.15 L303.02,78.29 L302.99,78.08 L302.94,77.53 L303.26,78.9 L304.04,79.04 L302.36,79.68 L303.39,78.11 L304.82,79.1 L305.46,81.88 L304.92,81.02 L305.2,79.62 L305.64,78.19 L305.63,80.48 L304.75,79.75 L305.59,80.35 L305.58,81.53 L306.41,81.77 L306.11,80.6 L306.02,80.47 L306.1,83.02 L307.04,84.16 L306.98,83.49 L307.78,83.71 L306.95,83.24 L308.66,82.87 L307.35,83.46 L306.77,83.21 L308.19,83.65 L307.7,83.9 L308.64,84.98 L308.72,84.43 L309.24,84.17 L308.68,84.4 L308.8,85.7 L310.55,84.74 L308.34,87.48 L308.81,86.41 L308.9,86.89 L310.16,87.45 L310.7,88.8 L310.65,87.07 L310.11,87.37 L309.2,87.63 L309.14,88.97 L310.85,88.48 L309.66,89.11 L311.18,88.69 L311.86,90.63 L311.27,88.2 L311.1,90.2" fill="none" stroke="#000" stroke-width="1.4" stroke-linejoin="round" stroke-linecap="round" />
<path d="M311.1,90.2 L312,83.2 L312.4,71.8 L313.3,64" fill="none" stroke="#333" stroke-width="1" stroke-linejoin="round" stroke-linecap="round"/>
<path d="M313.78,63.55 L313.31,62.13 L313.1,64.09 L312.99,62.8 L312.87,63.9 L313.59,61.71 L315.22,61.99 L313.48,62.26 L314.28,62.85 L314.08,62.88 L313.45,63.36 L313.98,62.1 L314.74,62.5 L315.14,65.67 L314.64,64.57 L313.68,63.82 L313.63,65.28 L314.53,65.36 L314.71,66.09 L314.38,65.79 L314.8,66" fill="none" stroke="#000" stroke-width="1.4" stroke-linejoin="round" stroke-linecap="round" />
<path d="M314.8,66 L315.5,60" fill="none" stroke="#333" stroke-width="1" stroke-linejoin="round" stroke-linecap="round"/>
<path d="M315.29,58.38 L316.38,60.45 L315.33,60.89 L316.61,58.52 L318,58.77 L315.5,59.8 L317.48,59.28 L316.65,58.39 L317.6,59.1 L316.01,60.28 L316.26,59.4 L316.45,58.9 L316.86,63.65 L316.13,61.65 L316.61,62.52 L317.81,61.71 L316.45,63.21 L317.02,64.49 L317.19,63.87 L317.53,64.81 L317.65,63.67 L317.35,63.33 L316.66,64.92 L317.13,62.11 L318.26,62.3 L318.94,60.97 L317.29,63.64 L317.41,62.02 L318.11,62.17 L318.23,61.94 L317.71,62.74 L317.76,61.27 L318.08,60.34 L318.22,59.95 L317.98,59.5 L317.43,60.03 L317.93,60.24 L317.35,61.06 L317.7,61.26 L318.6,61.03 L318.74,63.14 L318.37,61.94 L317.71,63.96 L317.86,64.07 L318.9,62.09 L319.99,62.17 L319,62.53 L319.12,62.65 L319.88,60.68 L320.05,62.53 L320.52,59.71 L319.88,60.11 L320.93,61.92 L318.86,59.58 L319.85,62.51 L317.99,61.41 L319.52,62.41 L321.28,59.85 L319.38,60.25 L319.92,62.9 L319.65,63.91 L319.64,62.66 L319.21,61.82 L319.53,65.96 L321.19,64.32 L320.13,65.69 L319.93,65.69 L320.8,64.46 L321.25,65.75 L320.09,65.69 L320.28,66.57 L319.92,66.27 L320.75,67.11 L320.61,68.91 L320.99,65.85 L320.59,69.92 L320.92,67.28 L320.98,65.75 L320.4,68.4 L320.96,69.39 L321.22,67.37 L323.04,69.98 L322.12,70.83 L322,69.44 L322,71.1 L323.09,70.85 L322.28,69.87 L322.82,71.42 L322.64,71.15 L324.3,71.47 L322.29,73.08 L323.52,72.1 L322.75,72.35 L323.87,72.45 L324.13,72.19 L323.15,70.8 L324.5,73.45 L324.12,73.46 L325.25,74.05 L324.68,74.98 L325.55,73.95 L325.6,75.16 L324.67,74.64 L324.97,75.34 L326.06,76.51 L326.1,73.63 L326.49,77.2 L325.46,75.75 L326.79,77.37 L325.58,76.77 L326.63,75.54 L326.19,76.46 L327.42,77.91 L326.5,75.81 L327.04,79.24 L327.62,77.95 L326.61,77.46 L328.51,78.81 L327.68,80 L327.58,80.26 L326.94,78.45 L328.71,80.08 L328.27,80.43 L329.13,79.96 L327.7,80.56 L328.36,82.16 L328.93,81.51 L329.24,82.4 L329.38,82.83 L329.09,81.51 L329.06,82.83 L329.59,83.36 L329.35,81.88 L331.17,82.88 L330.24,84.01 L331.58,82.7 L330.55,83.56 L331.55,83.69 L330.59,84.53 L330.41,84.81 L331.1,83.91 L332.15,82.56 L330.94,87.22 L330.86,85.44 L332.2,85.96 L331.45,86.72 L332.09,85.68 L334.15,86.24 L332.91,86.51 L333.65,86.45 L334.1,89.57 L332.91,88.82 L333.82,88.6 L334.61,89.07 L333.04,88.8 L333.92,88.59 L334.4,89.18 L333.52,90.03 L334.62,88.63 L334.56,89.92 L334.99,89.88 L335.1,90.2" fill="none" stroke="#000" stroke-width="1.4" stroke-linejoin="round" stroke-linecap="round" />
<path d="M335.1,90.2 L335.9,74.4 L336.8,57.4 L338,42.2 L339.3,33.7" fill="none" stroke="#333" stroke-width="1" stroke-linejoin="round" stroke-linecap="round"/>
<path d="M339.23,34.69 L338.24,33.63 L338.55,30.63 L338.1,33.14 L339.57,32.89 L339.25,32.2 L340.32,31.5 L339.86,31.94 L340.09,30.84 L340.03,32.12 L339.38,30.35 L339.63,30.49 L340.84,28.74 L339.09,29.21 L341.61,28.82 L339.7,29.1 L341.07,27.86 L340.83,28.98 L341.1,28.7 L341.21,30.62 L340.12,29.29 L342.09,30.15 L340.41,30.63 L342.12,30.47 L341.71,29.98 L342.53,32.01 L340.5,29.65 L342.14,31.79 L341.79,31.38 L342.66,31.61 L342.12,30.21 L341.6,31.4 L341.51,31.46 L342.16,33.19 L342.06,35.21 L342.49,34.15 L343.25,34.37 L342.48,34.56 L342.45,34.63 L343.13,34.98 L342.61,35.36 L343.11,35.6 L343.28,35.5 L343.19,35.71 L342.96,38.37 L342.13,36.77 L342.94,37.86 L342.58,38.33 L344.19,38.26 L342.91,38.45 L343.17,37.14 L343.61,39.3 L342.65,37.92 L342.71,38.36 L343.59,39.33 L343.6,41.71 L342.5,41.57 L344.1,41.96 L344.18,41.22 L344.93,41.69 L342.68,42.17 L344.86,40.06 L344.74,41.94 L343.55,42 L344.22,42.3 L343.69,43.11 L344.54,43.74 L343.5,42.67 L344.07,41.98 L343.89,44.15 L344.3,43.88 L344.81,44.78 L344.79,45.84 L343.96,46.42 L344.87,46.24 L344.27,44.97 L344.8,46.69 L344.46,45.38 L345.41,48.32 L345.79,47.26 L344.89,46.62 L344.84,48.69 L345.49,47.03 L343.58,49.91 L344.45,48.84 L344.41,48.72 L344.93,51.77 L344.98,49.64 L345.19,48.96 L346.65,50.4 L346.59,50.77 L345.71,49.79 L344.73,50.69 L345.63,53.96 L345.37,51.93 L345.25,51.45 L345.71,53.27 L346.14,52.46 L346.24,51.74 L346.43,53.04 L346.24,53.13 L346.88,54.29 L346.95,53.45 L346.27,53.46 L346.55,54.82 L345.9,52.63 L347.16,55.13 L347.59,54.93 L346.75,54.19 L346.77,56.71 L347.41,56.75 L347.25,56.04 L346.79,58.11 L346.25,55.2 L346.39,56.89 L346.61,58.42 L347.54,60.66 L347.06,57.38 L347.73,60.37 L348.02,58.25 L348.83,59.07 L347.86,59.31 L347.27,60.67 L348.34,60.29 L347.63,61.21 L348.83,61.46 L348.09,62.23 L346.86,61.96 L347.6,62.08 L347.59,62.95 L347.37,62.99 L347.63,63.71 L348.52,63.14 L348.22,63.16 L349.39,64.78 L347.76,62.37 L348.99,65.02 L348.52,64.24 L349.96,64.81 L347.83,65.1 L347.83,64.12 L348.45,67.14 L349.16,68.05 L349.23,66.87 L349.46,67.56 L348.59,66.19 L349.07,66.9 L348.29,67.48 L350.25,67.37 L348.64,70.34 L349.22,68.99 L349.76,68.13 L350.42,69.17 L349.23,69.98 L349.42,67.34 L349.1,70.95 L350.04,71.29 L349.55,69.08 L350.21,71.36 L349.78,71.51 L349.67,71.34 L349.24,71.97 L349.77,72.88 L349.72,73.07 L350.18,73.27 L350.45,74.03 L350.11,74.37 L350.11,73.74 L350.26,72.91 L350.89,75.43 L350.67,73.89 L349.71,75.71 L350.86,75.63 L350.9,76.31 L349.55,74.25 L350.66,78.08 L351.79,77.71 L350.36,76.88 L351.14,78.4 L351.55,77.89 L351.97,78.6 L350.53,76.65 L351.51,78.43 L351.5,79.34 L352.95,78.73 L352.49,80.5 L351.35,80.48 L351.89,79.72 L351.47,79.06 L351.33,80.55 L352.54,81.2 L352.17,80.74 L352.83,81.82 L351.9,81.88 L354.1,80.28 L352.72,81.48 L352.59,80.65 L353.74,81.97 L352.49,80.44 L353.21,82.84 L353.38,82.78 L353.8,83.8" fill="none" stroke="#000" stroke-width="1.4" stroke-linejoin="round" stroke-linecap="round" />
<path d="M229.58,235.65 L229.85,237.04 L230.5,236.29 L230.08,236.84 L230.51,236.41 L231.38,236.73 L231.25,236.49 L231.23,236.94 L232.09,236.73 L231.61,237.57 L232.41,237.44 L233.02,237.63 L233.24,237.88 L233.2,236.68 L233.96,236.11 L234.37,236.96 L233.96,236.8 L234.68,236.36 L235.32,236.55 L235.49,237.07 L235.38,235.32 L235.76,235.19 L236.38,235.53 L236.95,235.9 L236.76,236.41 L237.2,236.25 L237.92,235.92 L237.78,235.06 L237.86,236.23 L238.44,235.5 L238.29,235.15 L238.69,234.97 L239.38,235.76 L239.23,235.53 L239.95,235.39 L239.97,235.6 L240.93,235.43 L240.51,235.86 L240.64,234.42 L241.59,235.36 L241.42,235.14 L242.48,235.65 L242.23,235.12 L242.72,235.78 L242.72,235.94 L243.03,235.54 L243.34,235.19 L243.88,235.41 L244.03,235.48 L243.92,235.32 L244.29,236.35 L245.19,236.5 L245,234.52 L245.51,235.38 L245.61,235.47 L246.06,236.11 L246.19,235.95 L247.12,235.13 L246.66,235.3 L247.63,235.32 L247.38,235.35 L248.21,235.76 L248.1,235.39 L249.3,235.35 L249.35,235.46 L249.23,235.51 L249.46,234.64 L249.6,235.67 L249.57,235.48 L250.35,234.99 L250.52,235.63 L250.64,236.08 L251.63,236.06 L251.14,236.11 L251.19,236.73 L252.07,236.65 L252.02,237.28 L252.43,237.85 L252.1,236.89 L253.06,236.55 L253.28,235.59 L252.55,235.12 L252.83,235.21 L252.92,235.27 L252.84,234.74 L253.96,234.42 L253.91,234.04 L253.66,234.42 L254.24,233.08 L254.35,233.6 L255.02,232.8 L254.78,232.49 L255.3,232.81 L255.03,232.4 L255.24,233.36 L255.67,233.04 L255.91,232.69 L256.24,233.05 L256.35,232.22 L256.27,233.72 L257.52,233.76 L257.2,235.08 L257.2,234.45 L257.46,235.14 L258.12,234.23 L257.95,234.3 L258,235.59 L258.82,235.03 L258.61,235.34 L259.24,235.27 L259.93,236.45 L260.17,235.34 L260.16,236.15 L260.41,235.87 L260.6,235.39 L261.55,236.71 L261.28,237.28 L260.75,236.39 L261.21,235.67 L261.18,235.89 L261.46,234.71 L262.16,235.09 L262.56,234.17 L261.84,234.38 L262.2,234.17 L262.41,234.1 L262.77,234.44 L262.75,232.8 L262.29,233.16 L262.45,232.15 L263,231.03 L263.28,231.8 L263.02,231.33 L263.39,231.63 L262.85,231.13 L263.54,231.71 L263.86,231.01 L263.58,230.72 L263.74,229.97 L263.89,228.72 L263.86,228.67 L264.04,228.34 L264.69,228.28 L264.16,228.29 L264.23,227.66 L264.54,227.94 L264.68,227.65 L265.15,228.1 L265.7,227.23 L265.85,227.12 L265.91,227.1 L266.24,227.08 L266.91,226.43 L266.64,226.72 L267.46,226.52 L267.74,227.14 L268.03,227.28 L267.81,227.16 L268.15,227.91 L268.7,227.86 L269.1,228.53 L268.82,227.99 L268.71,228.81 L269.57,228.18 L269.31,228.71 L270.04,229.52 L270.04,229.71 L270.31,229.28 L270.06,229.69 L271.18,229.36 L271.22,229.45 L271.67,230.02 L271.43,229.87 L271.83,231.41 L271.78,231.18 L272.54,230.56 L273.53,231.5 L272.86,231.17 L273.24,230.42 L273.84,230.66 L273.97,230.63 L274.79,231.8 L274.33,230.32 L275.32,231.13 L275.8,231.25 L275.95,231.68 L275.7,231.22 L276.28,232.23 L276.31,230.98 L276.9,232.07 L277.54,231.8 L277.75,232.3 L277.63,232.53 L277.54,232.31 L278.44,232.99 L278.38,233.15 L278.66,232.39 L279.04,232.88 L279.04,233.66 L279.81,233.13 L280.55,233.95 L279.87,233.94 L280.16,233.36 L280.76,234.05 L280.76,234.15 L281.2,234.25 L281.53,234.78 L281.41,234.26 L282.02,235.48 L282.31,234.83 L282.49,235.58 L282.79,235.27 L282.82,235.6 L283.73,235.56 L283.87,236.15 L284.44,235.87 L284.66,236.2 L284.16,235.44 L284.71,236.49 L284.79,236.02 L285,237.03 L285.23,236.5 L286.65,236.47 L286.09,237.81 L287.04,236.3 L286.27,236.48 L286.78,237.16 L287.75,236.42 L287.37,236.88 L287.94,237.43 L288.33,237.99 L288.95,238.34 L289.25,238.54 L289.37,237.86 L289.02,237.96 L290.03,237.51 L289.84,237.07 L290.38,237.7 L290.81,237.85 L290.92,238.28 L290.71,238.01 L291.33,238.48 L292.18,238.33 L292.4,238.5" fill="none" stroke="#000" stroke-width="1.6" stroke-linejoin="round" stroke-linecap="round" />
<path d="M292.4,238.5 L293,228 L293.4,214.9 L294.1,208.9 L295.2,203.5" fill="none" stroke="#333" stroke-width="1" stroke-linejoin="round" stroke-linecap="round"/>
<path d="M295.42,204 L294.86,203.91 L295.89,203.25 L295.16,202.83 L295.44,202.54 L296.03,201.77 L295.45,201.7 L296.51,201.18 L296.21,200.81 L296.55,201.57 L296.08,201.63 L296.24,201.73 L296.81,203.53 L297.33,202.43 L297.07,203.17 L297.4,203.42 L298.01,203.94 L297.54,203.56 L297.97,203.93 L297.89,204.5 L297.49,205.05 L298.17,204.99 L298.04,205.67 L297.72,205.41 L297.8,205.44 L297.49,206.12 L297.74,207 L298.21,206.88 L297.51,206.81 L298.25,207.82 L298.52,207.56 L297.92,208.4 L297.72,208.25 L298.75,208.47 L298.61,208.5 L298.31,208.49 L298.98,209.94 L298.74,210.02 L297.86,210.89 L299.32,209.57 L299.03,211.8 L299.04,210.95 L298.89,211.22 L299.16,211.47 L299.52,212.07 L299.61,212.5 L299.97,211.86 L299.69,211.35 L299.61,213.03 L299.55,214.03 L299.85,212.89 L300.37,213.91 L300.44,214.04 L300.17,213.94 L300.05,214.61 L300.46,214.92 L300.39,215.43 L300.67,215.15 L300.67,215.51 L300.7,215.85 L301.47,216.51 L301.34,216.53 L301.24,216.41 L301.4,217.01 L301.87,216.85 L301.84,217.68 L302.08,217.6 L302.11,217.94 L302.6,218.63 L302.33,219.19 L302.3,219.68 L303.2,219.33 L302.98,220.78 L302.96,219.78 L303.17,219.65 L303.12,220.29 L303.25,221.31 L303.89,221.81 L303.58,221.59 L303.28,221.32 L303.95,221.95 L303.97,222.28 L303.85,222.59 L304.6,221.61 L303.79,223.4 L304.62,223.77 L304.39,223.36 L305.22,223.24 L305.15,223.63 L305.94,224.17 L305.07,224.92 L305.29,224.54 L305.59,224.39 L305.98,225.81 L306.08,225.87 L306.31,225.63 L307.04,226.06 L306.72,227.19 L306.14,226.9 L307.66,226.83 L307.33,226.78 L307.12,227.98 L307.26,227.58 L307.57,228.32 L308.09,228.91 L308.68,228.47 L307.85,228.6 L307.93,228.9 L308.47,228.91 L308.29,229.62 L308.83,228.66 L309.5,229.27 L310.12,229.14 L309.88,229.36 L310.6,229.73 L310.54,229.94 L310.87,229.66 L311,230.19 L310.83,230.1 L312.02,229.65 L311.88,230.34 L312.72,228.48 L313.2,229.19 L312.96,228.87 L313.33,228.56 L312.82,229.17 L314.2,229.03 L313.28,228.11 L313.78,228.13 L313.83,227.5 L313.94,228.5 L314.8,229.08 L315.35,228.69 L315.39,228.53 L315.33,228.52 L315.52,229.64 L316.14,229.48 L316.6,230.43 L316.37,230.13 L317.23,229.44 L316.24,231.19 L317.11,230.93 L317.44,231.07 L317.55,230.87 L318.13,231.15 L317.81,231.26 L318.39,231.9 L318.49,232.01 L318.97,232.71 L318.77,232.34 L318.47,232.76 L319.04,232.42 L319.35,232.96 L319.92,234.23 L320.6,233.49 L320.09,233.44 L320.73,234.15 L321.14,234.15 L320.84,233.7 L321.37,233.67 L321.29,234.61 L321.49,234.04 L322.44,235.35 L322.1,234.67 L322.57,234.23 L322.66,234.86 L323.72,234.88 L323.66,235.13 L323.83,234.3 L323.98,235.34 L324.44,234.95 L324.56,235.3 L324.97,235.22 L325,236.56 L325.06,236.47 L325.97,236.77 L326.34,236.51 L326.35,236.47 L326.59,237.83 L327.23,236.72 L327.05,237.67 L326.81,236.77 L328.13,237.04 L327.67,238.02 L328.66,238.56 L328.62,237.78 L328.85,237.55 L328.56,239.29 L329.07,238.62 L329.56,238.69 L330.08,239.01 L330.39,239.26 L330.68,239.63 L330.6,239.3" fill="none" stroke="#000" stroke-width="1.6" stroke-linejoin="round" stroke-linecap="round" />
<path d="M330.6,239.3 L332.3,226.9 L333.4,199.1 L334.2,177.7 L334.7,160 L335.5,152" fill="none" stroke="#333" stroke-width="1" stroke-linejoin="round" stroke-linecap="round"/>
<path d="M335.63,151.69 L335.37,152.11 L335.87,153.46 L335.26,152.85 L336.29,153 L336.02,153.29 L336.23,154.33 L336.43,153.78 L336.6,154.2" fill="none" stroke="#000" stroke-width="1.6" stroke-linejoin="round" stroke-linecap="round" />
<path d="M336.6,154.2 L337.4,147.8 L338.4,138.4" fill="none" stroke="#333" stroke-width="1" stroke-linejoin="round" stroke-linecap="round"/>
<path d="M338.73,138.3 L338.39,138.97 L338.36,138.85 L338.35,140.1 L337.97,139.92 L338.69,140.07 L338.59,140.82 L338.61,140.8 L339.16,141.33 L338.29,141.24 L338.52,141.72 L338.81,142.05 L338.45,142.13 L338.21,142.5 L338.34,142.79 L338.67,143.18 L338.27,143.18 L338.45,143.6 L338.9,143.82 L338.29,144.63 L339.14,144.92 L338.81,145.32 L339.29,145.06 L338.28,145.26 L338.86,145.75 L338.41,145.54 L338.84,147.23 L338.64,146.98 L338.78,146.23 L338.64,147.85 L338.81,146.72 L338.89,147.71 L338.8,147.67 L339.19,148.2 L339.2,148.83 L338.28,149.04 L339.13,148.47 L339.25,150.07 L338.43,149.94 L339.13,150.05 L338.92,151.22 L338.8,150.63 L339.32,151.66 L339.45,150.66 L338.63,151.38 L338.87,151.37 L339.95,153.47 L339,152.14 L339.39,153.09 L338.81,153.1 L339.15,153.44 L339.46,153.11 L338.92,153.57 L339.81,155.24 L339.61,155.51 L339.6,154.96 L339.91,154.83 L339.63,155.89 L339.75,155.21 L340.29,157.12 L339.78,157.08 L340.11,157.04 L340.32,157.38 L339.32,157.29 L339.81,156.78 L340.36,157.57 L340.2,159 L340.26,159.06 L340.13,159.2 L340.69,159.24 L340.34,159.61 L340.7,160.59 L340.52,160.17 L340.52,160.19 L340.51,161.11 L340.67,161.34 L340.34,160.41 L340.48,161.92 L340.6,161.75 L340.64,163.24 L340.6,162.51 L340.94,162.57 L341.11,162.97 L341.05,164.14 L340.88,164.51 L340.93,163.53 L340.5,164.94 L341.37,164.39 L341.49,165.46 L341.12,165.88 L341.41,166.07 L341.12,166.17 L341.12,166.64 L341.02,167.91 L340.9,166.41 L341.23,167.88 L341.35,167.77 L341.02,168.12 L341.35,168.32 L341.79,169.08 L341.35,168.29 L342.08,169.43 L341.72,169.82 L341.09,170.27 L341.58,169.8 L342.12,169.87 L342.09,170.77 L342.25,170.87 L341.94,171.59 L341.88,171.95 L341.83,172.63 L341.95,171.98 L342.76,172.42 L342.96,172.35 L342.59,173.65 L342.81,173.02 L342.34,172.3 L342.63,174.32 L342.49,175.32 L342.69,173.85 L343.35,175.03 L342.92,174.24 L342.72,175.94 L342.61,175.43 L343.31,176.3 L343.19,176.51 L343.13,176.99 L343.48,177.16 L343.44,177.72 L343.56,177.45 L342.85,176.99 L343.49,178.76 L343.32,177.82 L343.58,178.54 L343.92,178.55 L344.46,178.41 L344.23,179 L343.23,180.12 L343.83,179.54 L343.73,180.53 L343.96,180.71 L343.98,180.47 L343.81,182.37 L344.27,181.13 L344.44,182.53 L344.14,181.91 L344.15,182.6 L344.61,182.99 L344.32,183.36 L344.94,183.31 L345.05,183.13 L344.5,184.35 L345.1,183.96 L344.86,185.18 L344.06,185.88 L344.58,185.25 L344.75,185.17 L344.95,186.06 L344.42,186.04 L345.08,186.67 L345.23,187.7 L344.62,187.01 L344.82,188.58 L345.32,187.7 L345.56,188.14 L344.97,187.72 L344.85,188.59 L345.73,188.52 L345.31,189.25 L345.41,189.14 L345.11,189.69 L345.09,190.38 L345.44,190.91 L345.11,189.53 L345.37,191.04 L346.13,192.06 L346.03,192.49 L345.6,192.44 L345.71,192.71 L345.46,192.37 L346.07,192.72 L345.64,192.96 L346.33,193.71 L346.34,193.54 L345.83,194.35 L345.6,194.16 L346.37,193.98 L346.41,194.36 L345.68,195.24 L346.86,195.14 L346.47,195.67 L345.97,195.63 L347.33,195.5 L346.3,196.47 L346.01,196.91 L347.22,197.82 L346.83,197.09 L347.04,197.32 L346.78,197.65 L347.04,198.97 L346.44,198.49 L347.35,198.18 L347.03,199.48 L347.11,200.14 L347.08,199.49 L347.16,200.09 L347.4,201.62 L347.18,200.86 L346.99,200.7 L347.21,200.42 L346.82,200.89 L346.81,201.47 L347.9,202.87 L348.21,202.05 L346.8,203.13 L347.33,203.12 L347.62,202.57 L347.9,204.26 L347.61,203.3 L348.24,203.93 L347.62,204.55 L347.36,204.45 L348.34,204.78 L348.17,204.57 L348.43,205.73 L348.52,205.53 L349.01,207.12 L348.33,205.89 L348.44,206.87 L348.73,206.79 L349,208.69 L348.39,207.4 L348.68,208.51 L349.09,208.09 L349.08,209 L349.22,208.97 L348.51,209.12 L348.48,209.64 L349.22,210.55 L349.1,209.43 L348.99,210.95 L348.97,211.03 L349.19,211.1 L348.96,211.66 L349.44,211.18 L349.56,211.78 L349.03,212.08 L349.59,212.97 L349.46,213.27 L350.03,213.04 L350.24,212.69 L349.72,214.05 L349.99,214.15 L349.99,214.02 L349.41,214.22 L350.13,215.07 L350.38,215.58 L350.55,215.89 L350.79,215.34 L350.32,217.42 L350.82,215.82 L351.02,217.16 L350.36,217.75 L351.05,217.48 L350.71,218.2 L350.98,217.9 L351.15,218.1 L350.73,218.39 L351.42,218.74 L350.7,218.86 L351.39,219 L352.21,219.21 L351.74,220.37 L352.7,220.5 L352.15,220.03 L352.58,220.5 L352.17,221.6 L352.06,221.65 L352.7,220.87 L352.44,222.71 L352.06,221.95 L352.36,223.52 L352.79,222.3 L352.98,223.64 L353.07,223.33 L353.16,224.03 L353.26,223.98 L353.82,223.65 L353.07,224.13 L353.61,224.54 L353.23,225.43 L353.87,224.71 L353.57,225.79 L354.08,225.34 L353.61,226.1 L354.72,226.03 L354.68,226.22 L354.93,226.28 L354.36,228.07 L354.87,227.26 L354.95,227.27 L354.96,228.74 L354.94,228.59 L354.83,229.2 L355.2,229" fill="none" stroke="#000" stroke-width="1.6" stroke-linejoin="round" stroke-linecap="round" />
<path d="M334.3,176 L334.7,153 L335.6,167 L336.4,151 L337.2,163 L338.2,145" fill="none" stroke="#000" stroke-width="1.3" stroke-linejoin="round" stroke-linecap="round" />
<path d="M228.79,297.46 L228.17,296.48 L229.09,296.7 L228.37,298.11 L228.87,297.49 L229.27,297.08 L229.75,297.66 L229.78,296.7 L228.69,297.49 L229.49,299.39 L229.31,299.42 L229.51,298.94 L229.55,299.89 L229.64,299.94 L229.61,300.67 L229.11,299.43 L230.34,301.09 L230.1,302.02 L229.89,300.91 L230.4,302.46 L230.77,302.89 L230.11,302.34 L231.41,302.36 L231.48,302.69 L231.76,302.28 L231.93,305.42 L231.02,304.16 L231.4,303.88 L230.92,304.63 L232.29,304.22 L232.4,305.18 L231.69,305.93 L232.53,304.76 L232.48,305.95 L233.02,305.68 L233.2,306.83 L233.14,306.54 L232.56,307 L232.37,307.26 L233.32,307.46 L232.91,308.31 L233.19,307.24 L233.36,307.02 L233.85,310.4 L233.62,308.43 L233.54,310.38 L234.15,309.4 L234.01,309.26 L234.09,308.91 L235.22,311.15 L235.04,310.37 L234.91,311.13 L235.54,311.01 L235.04,311.75 L235.68,311.5 L235.09,311.54 L235.32,312.02 L235.83,313.32 L235.58,312.7 L236.14,313.97 L236.48,314.69 L235.98,313.45 L236.43,313.68 L236.7,314.66 L235.95,315.46 L236.13,314.71 L236.63,314.29 L236.6,314.82 L237.67,314.52 L237.73,315.59 L236.43,315.33 L238,315.93 L237.93,316.21 L238.53,316.13 L238.53,317.39 L238.78,317.18 L238.16,317.67 L238.55,317.46 L238.15,317.54 L239.15,318.49 L239.36,318.47 L238.58,319.97 L238.87,319.35 L239.52,319.01 L239.87,318.13 L240.02,320.51 L240.76,320.64 L240.62,320.22 L240.53,321.68 L240.42,319.8 L239.95,321.04 L241.18,321.45 L240.94,321.57 L240.93,322.97 L241.39,321.63 L241.82,323.25 L241.52,322.81 L242.3,323.84 L242.24,322.13 L242.93,321.94 L242.17,324.19 L242.49,323.19 L243.05,323.14 L242.24,324.19 L243.76,324.74 L243.31,324.14 L243.77,326.42 L243.99,325.08 L243.69,326.19 L243.63,325.83 L243.89,325.08 L244.93,326.92 L245.55,327.07 L245.34,326.84 L245.66,327.31 L245.56,326.57 L245.92,327.4 L246.1,327.19 L246.5,328.07 L247.04,328.46 L247.36,328.63 L247.81,329.01 L247.18,329.07 L248.21,330.38 L248.29,329.86 L247.72,329.26 L248.33,329.71 L247.8,329.34 L248.48,330.82 L249.46,329.26 L249.17,330.56 L249.89,330.37 L250.27,330.67 L250.13,331.27 L251.5,329.88 L250.37,330.89 L251.32,331.83 L252.36,331.12 L252.15,330.16 L251.98,331.88 L252,332.31 L251.81,332.43 L253.48,332.07 L253.49,330.75 L252.85,331.09 L253.33,333.27 L253.13,332.43 L253.99,332.85 L253.67,332.62 L254.82,333.27 L255.14,334.04 L255.73,334.41 L256.22,331.48 L255.31,333 L256.49,333.2 L255.8,331.72 L256.39,333.04 L257.02,333.39 L256.63,331.9 L256.74,332.5 L257.21,331.14 L258.83,333.03 L258.19,331.65 L259.2,332.16 L259.91,331.06 L259.72,331.36 L259.49,329.83 L260.68,330.84 L259.5,331.33 L260.03,332.95 L260.05,331.83 L260.95,332.46 L260.96,332 L261.08,331.99 L262.2,331.61 L261.32,333.31 L262.38,332.13 L262.42,334.51 L262.71,332.91 L263.05,333.39 L263.87,334.06 L264.44,333.82 L263.82,333.41 L263.52,335.43 L263.64,332.75 L264.52,334.13 L264.37,334.7 L265.41,334.02 L266.36,333.5 L266.34,334.06 L266.49,334.09 L266.74,334.25 L266.69,334.59 L267.19,335.05 L267.09,334.23 L268.42,335.27 L267.93,334.22 L268.86,335.5 L268.19,335.75 L269.42,335.38 L269.23,335.6 L269.71,334.74 L269.96,335.56 L270.78,336.68 L270.67,335.23 L270.92,335.63 L271.59,337 L271.21,336.03 L271.97,335.94 L272.61,335.77 L271.91,336.16 L271.64,337.56 L273,336.07 L273.85,336.96 L274.36,337.32 L274.03,336.61 L274.28,337.12 L274.4,335.66 L275.18,337.04 L275.75,335.97 L274.87,337 L276.28,337.21 L276.01,337.35 L276.95,336.57 L276.77,337.35 L276.62,337.03 L277.24,336.16 L278.04,338.23 L278.66,337.19 L277.82,337.64 L279.16,338.58 L278.29,337.82 L278.04,338.18 L280.06,338.41 L279.35,338.7 L279.74,339.13 L280.08,339.65 L280.36,340.31 L280.39,339.23 L281.26,338.36 L280.99,339.55 L281.55,339.8 L282.01,339.17 L282.67,339.91 L282.83,340.58 L282.67,339.39 L282.75,340.22 L283.42,339.98 L283.98,340.13 L284.9,341.03 L284.91,341.06 L285.2,339.9 L284.43,341.6 L285.06,342.56 L286.37,339.44 L285.52,341.2 L286.63,340.91 L286.27,341.6 L286.3,342.33 L286.75,341.14 L287.63,341.12 L287.19,341.38 L287.11,341.14 L288.36,341.47 L288.54,341.67 L288.56,341.45 L289.3,341.1" fill="none" stroke="#000" stroke-width="1.3" stroke-linejoin="round" stroke-linecap="round" />
<path d="M289.3,341.1 L290.1,332.1 L290.9,316.6 L291.7,301.1 L292.4,288.6 L293.5,281.6" fill="none" stroke="#333" stroke-width="1" stroke-linejoin="round" stroke-linecap="round"/>
<path d="M293.57,281.62 L293.88,280.52 L293.77,281.14 L294.76,280.46 L293.66,280.5 L294.39,279.66 L293.9,279.81 L294.79,279.2 L294.96,279.46 L294.1,279.11 L294.89,279.42 L294.74,278.14 L295.37,277.66 L295.3,278.32 L295.07,279.06 L295.17,279.42 L295.19,278.69 L295.8,278.98 L295.3,280.49 L295.76,280.76 L295.33,281.29 L295.4,280.95 L296.53,280.78 L295.62,280.19 L296.46,282.14 L295.31,281.59 L296.46,281.26 L296.77,283.43 L297.03,282.53 L296.78,283.19 L297.27,283.49 L295.7,283.58 L296.79,284.02 L296.46,284.72 L296.35,284.69 L296.95,284.99 L297.71,285.61 L297.28,284.44 L296.61,286.35 L297.19,286.41 L297.57,286.01 L297.62,288.24 L297.86,287.8 L297.89,287.5 L297.61,287.36 L298.17,288.66 L297.53,288.31 L297.68,289.1 L298.13,289.18 L298.22,288.88 L297.78,289.93 L297.68,289.16 L298.43,290.25 L298.39,289.28 L297.64,291 L298.37,291.73 L297.82,291.75 L298.71,291.03 L298.53,292.98 L298.23,292.23 L298.92,291.53 L299.09,292.89 L299.07,292.77 L298.92,293.07 L298.42,294.74 L298.78,294.73 L298.93,293.82 L298.59,295.15 L298.72,294.85 L298.93,294.82 L298.87,296.16 L298.98,296.74 L299.67,295.76 L298.98,297.43 L298.81,297.19 L299.22,296.84 L298.89,297.87 L299.2,297.37 L299.05,298.07 L300.77,297.42 L299.1,298.74 L299.27,299.45 L300.66,297.97 L299.65,300.32 L300.31,299.09 L300.45,301.43 L299.76,300.83 L300.53,299.54 L300.51,301.66 L301.14,301.3 L301.1,301.05 L300.44,302.44 L300.84,302.28 L300.46,302.88 L301.01,302.65 L301.06,303.12 L301.06,303.56 L301.68,303.37 L301.17,303.58 L300.9,303.73 L301.46,304.88 L301.76,304.8 L301.94,305.06 L301.88,306.64 L302.53,305.58 L301.17,306.51 L302.07,307.21 L301.56,307.18 L301.86,306.37 L301.74,307.57 L302.72,307.04 L302.44,307.38 L301.74,307.5 L302.5,308.32 L303.06,307.74 L303.1,309.49 L302.31,308.92 L302.96,309.48 L302.72,309.72 L302.73,309.48 L302.92,310.36 L303.1,311.79 L303.1,311.29 L303,311.16 L302.89,311.24 L304.24,310.49 L303.97,311.43 L303.66,312.31 L303.78,313.15 L303.99,313.24 L304.68,313.86 L304.86,313.55 L305.18,314.12 L303.96,313.99 L304.85,314.49 L304.78,314.39 L304.45,314.73 L304.78,316.3 L304.55,314.77 L305.34,315.2 L305.73,316.98 L305.06,315.83 L305.68,315.86 L305.63,317.42 L306.79,318.18 L305.14,317.52 L306.16,318.4 L306.76,318.4 L306.49,317.59 L306.27,318.63 L306.68,319.23 L307.68,318.79 L307.7,319.44 L307.58,319.5 L307.33,319.38 L306.46,320.84 L307.42,320.76 L307.74,321.39 L307.25,320.91 L307.61,322.99 L307.75,321.29 L308.29,321.57 L308.79,321.18 L308.72,322.14 L308.37,321.22 L308.56,322.66 L309,322.7 L308.58,323.66 L309.47,322.39 L309.78,323.71 L309.44,324.74 L309.49,323.52 L310.34,324.23 L310.36,323.87 L309.88,324.23 L309.99,324.57 L310.61,325.46 L310.91,325.63 L310.84,327.4 L310.86,325.79 L310.94,326.73 L311.75,327.79 L311.64,328.6 L311.52,325.86 L311.39,328.27 L312.29,327.71 L311.57,328.46 L311.11,328.25 L311.84,328.89 L312.01,329.13 L312.45,328.83 L312.32,331.46 L312.76,329.2 L313.49,330.91 L313.16,330.94 L313.12,330.84 L313.26,330.91 L313.34,330.36 L314.09,332.8 L314.03,331.34 L314.76,331.8 L314.11,332.34 L314.68,333.07 L314.37,332.45 L314.18,333.22 L315.51,332.78 L315.75,334.16 L315.2,333.55 L315.44,333.89 L315.74,335.13 L315.72,335.41 L316.92,335.02 L316.13,334.53 L315.9,334.86 L316.51,335.29 L316.77,337.13 L317.57,334.57 L317.34,336.8 L317.86,336.6 L317.76,336.29 L318.64,336.98 L318.19,338.03 L318.69,336.5 L319,337.56 L318.79,337.84 L318.62,338.44 L320.14,337.8 L319.77,337.88 L319.93,339.09 L319.22,339.74 L319.13,339.68 L320.38,339.31 L320.92,340.15 L320.55,339.1 L320.58,339.81 L320.81,339.6 L321.9,341.07 L322.26,341.03 L321.28,340.82 L322.05,340.55 L322.71,341.84 L322.81,340.82 L322.91,341.24 L323.54,342.37 L323.26,341.63 L323.23,342.44 L323.92,342.42 L323.64,341.49 L324.37,344.23 L323.63,342.58 L324.9,342.52 L325.12,343.76 L324.93,343.9 L324.95,344.73 L325.58,344.23 L326.34,343 L326.51,344.11 L326.54,345.24 L326.65,344.14 L327.64,344.65 L327.97,345.38 L327.23,345.46 L328.25,345.7 L328.3,345.16 L327.83,345.17 L328.97,345.45 L327.95,345.42 L329.65,345.27 L329.94,346.06 L329.55,345.57 L329.66,345.55 L330.38,346.52 L330.76,345.88 L330.78,345.35 L330.62,345.23 L331.11,345.32 L331.9,346.2" fill="none" stroke="#000" stroke-width="1.3" stroke-linejoin="round" stroke-linecap="round" />
<path d="M331.9,346.2 L333.4,328.1 L334.7,305.3 L336.1,280.5 L337.6,263.4 L339.1,256.8" fill="none" stroke="#333" stroke-width="1" stroke-linejoin="round" stroke-linecap="round"/>
<path d="M339.69,257.8 L338.93,257.89 L338.77,257.78 L339.45,257.32 L339.51,256.94 L338.61,258.65 L339.47,256.98 L339.73,258.77 L340,258.41 L339.51,259.51 L340.02,260.78 L340.8,260.5 L339.98,260 L340.06,259.49 L341.32,261.18 L340.41,261.56 L340.03,260.68 L339.85,260.6 L340.62,262.15 L340.44,261.79 L340.84,262.16 L340.38,263.38 L340.13,262.98 L341.65,263.27 L341.12,263.86 L341.43,264.53 L340.44,264.25 L341.28,265.42 L341.4,264.63 L340.95,265.34 L341.24,266.83 L340.92,266.14 L341.56,266.37 L340.82,266.83 L341.14,267.12 L341.15,267.33 L340.57,266.02 L340.36,267.48 L342.24,267.05 L341.21,268.76 L340.48,268.82 L341.92,269.07 L340.97,269.33 L341.35,270.13 L341.71,269.43 L342.56,269.9 L342.65,270.31 L341.22,270.98 L341.82,270.99 L342.4,272.21 L341.59,273.23 L342.93,271.61 L342.11,271.61 L341.56,273.53 L341.71,272.56 L342.25,273.43 L342.4,273.36 L341.99,273.18 L343.07,274.29 L342.26,274.26 L342.31,275.43 L342.42,275.73 L342.43,275.93 L342.02,274.9 L343.25,276.07 L342.33,277.29 L342.02,278 L342.96,276.14 L342.99,276.01 L342.9,277.53 L342.84,276.81 L342.69,278.5 L342.76,278.85 L342.65,278.71 L342.76,277.91 L342.53,279.41 L342.23,278.13 L342.85,280.54 L343.53,279.5 L342.36,280.18 L342.68,280.31 L342.7,280.77 L343.34,281.23 L343.09,281.12 L343.58,281.69 L343.59,281.63 L343.21,283.2 L343.21,282.07 L343.16,281.85 L343.38,282.52 L343.73,283.36 L343.74,283.98 L343.72,284.17 L343.94,283.78 L344.19,285.65 L343.93,284.24 L344.13,284.36 L343.65,285.59 L343.8,285.54 L343.53,286.32 L344.11,286.66 L344.03,287.27 L345.12,287.23 L344.29,288.19 L344.47,286.94 L343.15,288.51 L344.47,288.34 L344.39,288.77 L345.01,288.95 L344.33,289.6 L345.42,289.51 L344.32,289.4 L344.67,290.47 L345.25,290.76 L344.89,291.6 L344.72,291.2 L345.24,291.32 L344.39,290.95 L344.48,291.78 L345.48,291.9 L345.25,291.22 L344.94,292.13 L344.66,292.91 L345.18,292.62 L344.27,292.14 L345.73,293.94 L345.17,295.7 L345.23,294.27 L345.81,295.4 L345.66,294.77 L346,295.67 L345.46,295.73 L345.02,295.74 L345.96,296.77 L345.82,297.62 L345.35,296.89 L345.48,296.74 L345.89,298.01 L345.86,296.6 L345.49,298.2 L346.23,298.68 L345.46,298.32 L346.22,299.08 L346.83,299.42 L345.76,299.99 L345.97,300.7 L346.34,300.94 L345.91,301.6 L346.59,301.56 L346.76,300.8 L346.66,303.17 L346.48,301.49 L346.71,303.14 L346.36,303.56 L346.01,303.75 L346.62,303.08 L347.34,303.17 L347,303.4 L347.26,305.3 L346.63,304.12 L347.17,303.38 L347.54,305.57 L348.05,305.45 L346.15,306.1 L347.58,305.31 L347.66,305.92 L347.02,308.15 L347.39,308.22 L347.53,306.11 L347.3,307.96 L347.23,308.69 L348.09,307.83 L347.5,308.11 L348.1,308.53 L348.47,309.98 L347.93,310.37 L347.98,308.35 L347.63,309.46 L348.1,309.69 L348.6,310.35 L348.76,310.02 L348.65,310.94 L347.84,312.02 L348.14,312.55 L349,312.06 L347.89,312.7 L349.15,312.5 L348.68,312.61 L349.5,313.03 L348.43,312.92 L348.67,312.85 L349.12,313.71 L348.28,314.11 L349.4,313.42 L348.57,315.23 L348.16,315.67 L349.55,316.87 L349.58,314.55 L349.22,315.92 L349.39,315.99 L349.15,316.46 L349.86,316.45 L349.09,317.47 L350.43,317.09 L350.53,318.18 L349.41,317.12 L349.08,316.87 L349.54,318.35 L349.8,318.17 L350.58,319.06 L349.55,319.85 L350.29,320.75 L350.53,319.4 L350.03,320.09 L350.5,321.67 L351.1,320.54 L351.18,322.33 L351.27,320.93 L351.35,322.55 L351.08,322.53 L350.66,322.35 L351.01,322.22 L352.27,322.99 L351.14,321.79 L351.79,322.95 L351.6,324.63 L352.58,323.63 L352.39,324.69 L351.93,325.29 L352.08,325.18 L352.54,324.85 L352.02,325.9 L352.96,325.4 L353.09,326.31 L352.56,326.28 L353.3,327.29 L353.53,325.3 L353.55,326.84 L353.25,328.66 L353.6,327.27 L353.86,328.25 L353.83,327.55 L354.14,329.36 L354.48,329.47 L354.6,328.79 L353.74,329.76 L354.41,329.71 L355.01,330.41 L354.3,330.6 L354.49,332.21 L355.16,330.5 L354.52,331.05 L355.51,330.91 L355.1,331.9" fill="none" stroke="#000" stroke-width="1.3" stroke-linejoin="round" stroke-linecap="round" />
<path d="M228.76,430.94 L228.8,431.27 L229.22,430.73 L229.98,431.8 L228.86,430.72 L229.78,429.49 L230.79,428.37 L230.28,430.43 L230.06,428.94 L231.11,429.33 L231.32,429.43 L230.04,430.06 L232.21,429.19 L231.78,428.74 L231.28,429.21 L232.25,431.43 L232.38,430.16 L233.65,430.98 L233.85,430.91 L234.42,430.61 L233.99,430.46 L233.62,431.03 L234.9,428.21 L234.25,430.84 L234.35,430.66 L235.29,430.34 L235.94,431.41 L236.07,431.42 L235.53,432.32 L235.79,430.37 L236.02,431.95 L236.07,434.45 L236.16,433.15 L236,433.62 L237,434.13 L236.31,433.19 L236.82,435.33 L235.86,435.4 L238.53,433.29 L237.59,436.26 L238.08,435.83 L237.93,434.88 L237.19,434.44 L238.57,435.86 L237.53,436.17 L238.46,437.07 L238.45,437.21 L239.48,436.52 L238.35,438.23 L239.87,436.22 L239.54,437.77 L240.33,436.8 L240.08,438.08 L239.85,438.49 L240.47,438.73 L240.83,439.25 L240.44,437.61 L241.81,438.69 L242.05,438.51 L242.15,440.24 L241.88,441.47 L242.87,439.89 L242.99,440.13 L243.5,439.82 L241.76,440.42 L242.92,440.81 L242.98,438.76 L243.98,439.03 L243.38,439.31 L243.01,438.72 L243.39,437.89 L243.1,437.99 L244.53,437.56 L244.05,438.05 L244.04,437.69 L244.84,436.03 L244.91,438.97 L246.38,437.4 L245.52,435.53 L245.34,436.15 L245.76,434.8 L245.04,436.91 L245.9,436.6 L246.76,436.15 L246.82,438.78 L247.22,438.48 L247.31,437.74 L246.9,439.25 L246.52,438.17 L247.05,436.87 L247.94,439.61 L248.7,439.29 L248.93,437.7 L248.76,439.63 L247.99,441.05 L248.9,439.26 L248.49,440.25 L248.59,440.44 L248.98,440.92 L248.77,442.59 L249.62,441.82 L249.18,442.98 L250.97,441.38 L249.9,441.46 L249.73,441.95 L251.43,443.62 L250.29,442.59 L251.35,441.72 L251.49,442.68 L251.13,441.2 L251.84,444.15 L251.98,441.4 L252.01,444.13 L251.97,443.92 L252.76,444.57 L252.66,442.26 L252.75,445.71 L252.54,446.19 L253.88,447.03 L255.02,445.16 L254.7,447.05 L253.91,444.89 L254.83,446.62 L253.65,446.48 L254.55,447.74 L254.68,447.26 L254.28,446.98 L254.94,447.91 L255.78,445.93 L256.33,447.72 L255.26,448.72 L256.21,448.04 L255.8,448.5 L257.22,448.7 L257.72,449.96 L255.57,449.74 L256.96,449.03 L258.41,447.09 L257.7,450.52 L258.21,450.24 L258.95,449.93 L258.84,451.99 L258.71,450.05 L259.21,451.65 L259.56,450.37 L259.55,451.86 L259.46,450.96 L259.73,449.75 L259.85,451.21 L260.11,451.49 L260.63,451.96 L260.77,451.47 L261.41,452.07 L261.18,452.69 L260.69,451.68 L262.18,451.43 L263.16,451.87 L262.3,452.64 L262.53,452.71 L263.21,452.36 L263.57,451.7 L263.28,453.01 L264.35,454.09 L264.07,454.22 L264.08,452.2 L263.98,451.98 L265.1,454.95 L265.33,453.85 L266.86,453.68 L265.61,452.38 L265.93,454.2 L267.51,454.84 L267.46,455.16 L267.88,454.34 L266.85,453.9 L267.68,454.53 L267.52,456.01 L267.92,456.07 L267.65,454.03 L268.07,455.28 L269.22,455.64 L268.33,455.22 L270.01,455.25 L270.42,454.24 L269.96,456.01 L270.95,456.31 L270.37,456.24 L270.7,457.11 L272,456.78 L272.68,457.7 L272.13,457.5 L272.47,456.45 L274.17,457.16 L272.5,457.34 L272.36,458.17 L272.73,457.47 L273.38,455.34 L273.07,455.83 L273.99,456.41 L273.64,456.83 L274.84,453.74 L275.19,454.93 L274.06,452.79 L276.05,454.69 L273.84,453.21 L275.89,453.62 L274.33,455.17 L274.13,452.91 L274.73,452.41 L276.06,453.26 L275.26,454.74 L275.68,453.04 L276.78,452.13 L276.65,452.36 L276.32,451.71 L275.83,451.6 L275.73,450.23 L275.83,450.58 L275.72,449.97 L276.07,450.76 L276.17,449.59 L276.08,450.59 L275.99,450.39 L276.97,450.2 L276.97,448.09 L276.24,449.26 L277.09,447.74 L276.83,447.46 L277.29,447.37 L278.08,447.76 L278.8,446.48 L278.46,446.18 L276.64,446.07 L277.4,445.5 L276.51,446.56 L277.72,444.73 L278.26,445.66 L278.15,445.61 L279.18,444.4 L278.91,445.93 L278.39,444.29 L279.36,445.82 L278.39,444.25 L281,444.01 L279.66,443.09 L279.89,444.38 L281.47,443.83 L280.14,442.09 L281.02,443.83 L281.16,443.33 L281.79,443.48 L281.72,443 L281.56,443.71 L281.16,444.1 L282.64,444.48 L283.77,443.05 L284.45,443.25 L284.2,443.85 L284.69,444.65 L284.6,444.7 L283.13,444.82 L284.79,445.65 L285.72,445.89 L284.1,445.09 L284.76,446.2 L285.39,446.1 L286.27,445.68 L286.9,446.53 L286.69,447.09 L285.9,446.83 L285.99,446.84 L286.82,447.94 L286.04,446.79 L286.1,447.21 L286.5,447.41 L286.96,449.03 L287.83,448.06 L288.4,448.81 L288.78,449.65 L289.39,448.85 L288.48,449.69 L288.45,450.89 L290.15,450.16 L289.86,450.03 L290.3,450.23 L290.16,450.51 L289.28,451.13 L290.51,450.91 L291.15,452.61 L291.65,450.44 L290.85,450.86 L292.14,451.13 L292.75,452.62 L292.32,451.93 L293.42,452.08 L293.66,451.97 L293.23,451.56 L293.93,453.13 L293.48,452.8 L293.79,451.2 L294.08,452.23 L294.13,454.57 L294.85,454.1 L295.2,452.54 L294.7,454.37 L295.38,452.41 L295.45,453.84 L296.27,453.31 L296.47,452.69 L296.29,453.55 L295.97,452.45 L296.8,451.9" fill="none" stroke="#000" stroke-width="1.4" stroke-linejoin="round" stroke-linecap="round" />
<path d="M296.8,451.9 L298,439.4 L299.3,430.5 L300.4,426" fill="none" stroke="#333" stroke-width="1" stroke-linejoin="round" stroke-linecap="round"/>
<path d="M300.34,425.36 L300.1,427.03 L301.15,425.37 L299.2,429.01 L300.87,426.26 L300.34,427.94 L301.65,428.1 L301.53,427.86 L300.65,428.52 L300.94,428.16 L302.09,430.18 L300.57,429.52 L301.36,429.17 L301.7,428.18 L301.04,430.42 L301.67,430.07 L302.44,432.36 L302.22,431.69 L302.82,430.16 L301.25,430.98 L302.3,432.5 L302.92,432.13 L302.97,432.21 L302.65,433.84 L302.96,432.67 L302.83,433.83 L302.77,433.61 L303.61,433.76 L303.29,433.38 L303.15,433.07 L304.03,434.69 L303.82,433.97 L304.22,434.32 L304.46,435.63 L303.51,435.47 L303.72,435.42 L304.64,435.58 L304.45,437.38 L305.11,436.01 L306.33,435.13 L305.91,435.86 L306.04,438.33 L306.06,437.63 L306.35,437.68 L305.46,437.67 L305.83,438.84 L305.75,439.36 L305.84,439.27 L307.85,439.21 L306.01,438.62 L306.76,438.42 L306.79,441.51 L307.1,441.17 L308.56,440.06 L306.44,441.83 L307.93,440.29 L307.72,441.98 L308.32,441.95 L308.75,441.64 L308.77,441.46 L308.6,443.27 L308.63,442.44 L308.95,441.06 L307.76,442.02 L308.57,444.2 L309.29,444.11 L308.88,442.52 L309.84,444.09 L308.97,444.65 L309.93,444.39 L309.76,444.01 L308.92,444.91 L310.85,447.16 L311.04,445.51 L311.54,445.27 L310.87,446.12 L311,446.2 L311.11,447.26 L311.69,446.51 L311.4,447.99 L311.1,448.69 L311.58,449.16 L311.55,449.63 L312.08,448.36 L312.94,449.8 L311.8,448.72 L313.1,450.05 L312.31,450.27 L312.63,451.04 L313.15,450.34 L311.59,449.97 L313.49,450.92 L313.2,451" fill="none" stroke="#000" stroke-width="1.4" stroke-linejoin="round" stroke-linecap="round" />
<path d="M313.2,451 L314.6,444.8 L315.9,437.6" fill="none" stroke="#333" stroke-width="1" stroke-linejoin="round" stroke-linecap="round"/>
<path d="M316.22,437.98 L316.64,437.45 L317.02,437.12 L316.73,436.77 L316.56,435.95 L316.58,436.51 L316.65,437.19 L316.95,436.53 L316.33,436.21 L317.55,434.64 L317.33,433.96 L317.34,434.87 L317.66,434.46 L317.7,433.58 L317.31,433.04 L317.64,431.82 L318.02,431.57 L317.66,433.08 L318.77,432.81 L318.36,432.3 L319.44,432.35 L320.64,433.11 L319.93,430.81 L319.57,433.13 L321.41,433.26 L321.21,433.3 L320.36,434.35 L321.54,431.64 L320.03,435.22 L320.89,433.93 L321.49,434.54 L321.26,435.61 L320.75,436.56 L323.41,435.33 L322.44,435.31 L323.72,435.24 L322.16,436.69 L322.65,434.5 L321.47,437.07 L323.16,436.26 L322.87,434.86 L322.34,435.82 L323.96,437.82 L323.05,438.74 L322.55,438.43 L324.07,436.95 L323.3,438.15 L323.92,437.14 L323.02,440.98 L325.04,438.39 L324.17,437.89 L325.37,439.88 L325.93,440.03 L324.95,440.33 L325.38,441 L324.77,439.58 L325.69,440.94 L325.22,440.34 L326.01,441.03 L326.32,441.57 L325.58,442.55 L325.54,442.21 L326.92,442.83 L325.55,442.14 L326.61,443.69 L327.23,443.46 L327.69,444.05 L326.01,443.56 L327.32,443.78 L327.91,444.08 L328.63,444.46 L328.04,444.37 L329.48,444.85 L327.81,444.57 L329.03,445.31 L328.66,445.89 L327.7,444.84 L328.98,446.17 L329.52,448.14 L330.1,447.19 L329.02,446.25 L330.86,446.93 L329.85,448.34 L330.98,446.61 L330,448.87 L330.41,449.54 L330.98,449.01 L330.96,448.28 L331.92,449.4 L331.61,449.71 L333.28,448.48 L332.11,450.95 L333.34,448.66 L332.71,450 L333.11,450.85 L334.32,450.4 L333.75,448.84 L333.64,449.83 L333.99,450.75 L334.48,448.98 L334.05,453.35 L334.91,452.29 L334.47,451.96 L335,451.9" fill="none" stroke="#000" stroke-width="1.4" stroke-linejoin="round" stroke-linecap="round" />
<path d="M335,451.9 L336.1,439.4 L336.8,421.6 L337.7,407.3 L338.6,401.9" fill="none" stroke="#333" stroke-width="1" stroke-linejoin="round" stroke-linecap="round"/>
<path d="M338.76,402.46 L339.25,403.48 L337.4,401.87 L339.34,404.13 L338.84,403.25 L340.15,405.61 L339.5,403.7" fill="none" stroke="#000" stroke-width="1.4" stroke-linejoin="round" stroke-linecap="round" />
<path d="M339.5,403.7 L340.4,382.3 L341.1,374.3" fill="none" stroke="#333" stroke-width="1" stroke-linejoin="round" stroke-linecap="round"/>
<path d="M340.88,374.39 L341.95,375.12 L341.74,375.37 L341.43,375.46 L341.33,374.41 L341.25,375.88 L341.51,375.93 L341.25,375.94 L342.79,375.6 L340.73,376.28 L341.24,376.9 L340.06,376.73 L342.17,379.45 L341.93,377.96 L340.67,377.62 L342.02,379.21 L341.71,378.61 L341.68,377.13 L341.89,380.78 L342.18,380.31 L341.1,378.6 L342.05,379.63 L340.82,380.51 L341.87,382.17 L343.22,382.57 L341.3,380.52 L342.94,383.26 L342.35,382.96 L342.56,383.53 L342.64,382.08 L341.98,384.4 L341.96,383.01 L342.6,383.61 L342.33,385.13 L341.29,384.47 L341.79,384.67 L342.62,384.86 L343.95,385.81 L342.16,385.19 L342.36,385.25 L343.14,386.32 L343.12,385.14 L342.29,387.77 L342.75,386.88 L342.57,388.27 L342.71,387.97 L342.89,387.45 L342.79,389.23 L342.79,388.01 L343.01,389.23 L343.35,389.26 L343.38,390.91 L343.64,390.46 L342.85,390.52 L342.99,389.58 L342.44,392.25 L342.29,392.17 L344.16,392.04 L342.41,392.12 L343.05,392.64 L342.86,393.4 L342.92,391.45 L343.84,393.83 L343.27,393.85 L343.16,394.52 L343.44,393.81 L343.04,395.5 L342.98,395.27 L343.49,394.47 L342.91,394.24 L343.08,394.67 L344.84,395.22 L343.53,396.89 L342.11,395.45 L343.17,397.35 L343.33,398.19 L343.22,396.39 L342.79,396.5 L343.33,398.8 L343.34,399.09 L343.37,398.57 L343.34,398.59 L343.72,400.72 L344.77,397.95 L344.46,401.12 L343.79,399.6 L344.03,398.97 L344.04,399.51 L343.55,398.06 L345.19,399.98 L343.91,397.08 L344.71,397.86 L344.58,397.49 L345.19,397.62 L345.24,395.82 L344.94,397.69 L344.52,396.25 L345.05,397.67 L345.11,398.82 L345.47,397.36 L345.3,398.88 L344.37,399.11 L345.19,401.77 L344.57,400.41 L345.51,399.84 L345.91,400.74 L344.29,401.72 L345.62,399.57 L344.82,401.79 L344.67,401.29 L344.92,403.47 L345.57,400.93 L345.28,402.39 L345.08,402.43 L345.44,401.39 L344.93,402.77 L345.92,403.97 L345.12,402.06 L345.87,404.18 L345.55,402.57 L345.98,403.45 L345.42,402.23 L346.26,402.03 L345.43,403.16 L345.89,401.76 L345.78,400.78 L346.37,402.06 L345.63,400.38 L345.19,401.19 L346.14,401.89 L345.96,400.73 L345.97,401.64 L346.95,401.76 L346.63,401.99 L347.06,403.36 L346.26,403.43 L345.2,403.86 L346.2,406.27 L345.7,404.14 L347.31,404.61 L346.66,404.37 L346.99,406.29 L345.47,405.31 L346.83,406.35 L346.29,405.99 L345.65,408.16 L346.24,406.42 L346.22,405.78 L347.36,406.77 L345.88,406.22 L345.81,408.32 L346.37,406.58 L346.19,407.6 L347.04,408.84 L346.65,408.7 L346.75,410.22 L346.52,410.54 L347.62,410.62 L348.41,409.24 L346.75,410.49 L347.24,410.94 L347.02,410.3 L347.84,411.16 L347.42,410.43 L346.65,412 L346.97,412.71 L347.3,412.92 L347,414.26 L345.78,414.98 L348.04,415.42 L347.52,415.49 L346.89,414.64 L346.87,415.88 L347.59,414.27 L347.84,415.49 L347.51,414.54 L348.44,416.32 L348.06,416.87 L347.58,416.25 L347.89,416.32 L347.72,417.56 L347.5,419.23 L348.01,418.42 L347.97,417.86 L348.08,419.66 L348.38,419.08 L348.7,419.56 L348.01,420.67 L349.45,418.75 L348.59,420.93 L348.75,419.83 L348.23,421.55 L348.7,421.99 L348.56,420.66 L349.03,419.4 L348.59,420.4 L349.1,421.08 L349.05,422.82 L349.32,422.64 L349.48,424.21 L349.17,424.47 L348.9,423.68 L348.84,424.19 L349.03,424.38 L350.14,423.94 L349.96,424.68 L348.51,424.63 L349.53,426.46 L350.22,424.86 L349.33,424.72 L349.41,427.06 L349.7,427.34 L349.97,426.44 L350.6,426.48 L350.09,428.2 L350.42,428.06 L349.27,429.32 L350.75,429.03 L350.3,428.13 L351.05,428.39 L350.75,427.97 L350.79,430.45 L350.27,429.16 L350.01,427.99 L350.11,431.17 L350.57,429.01 L351.07,429.44 L351.45,430.27 L350.21,431.24 L350.74,430.94 L351.91,431.16 L351.52,431.3 L351.74,431.96 L350.62,431.49 L352.42,433.52 L351.53,432.11 L351.28,433.18 L351.94,434.79 L351.89,432.97 L351.71,435.69 L351.74,434.32 L352,435.21 L351.94,436.15 L352.77,434.33 L352.07,433.54 L352.85,436.46 L352.56,435.98 L354.4,437.25 L352.92,436.36 L353.45,436.96 L353.56,437.67 L353.21,439.42 L353.69,437.99 L353.39,440.43 L354.37,440.35 L353.26,436.75 L354.15,438.54 L354.07,440.91 L355.38,440.16 L355.49,440.63 L355.31,439.8 L353.13,440.44 L354.6,441.2" fill="none" stroke="#000" stroke-width="1.4" stroke-linejoin="round" stroke-linecap="round" />
</svg>
</body></html>
